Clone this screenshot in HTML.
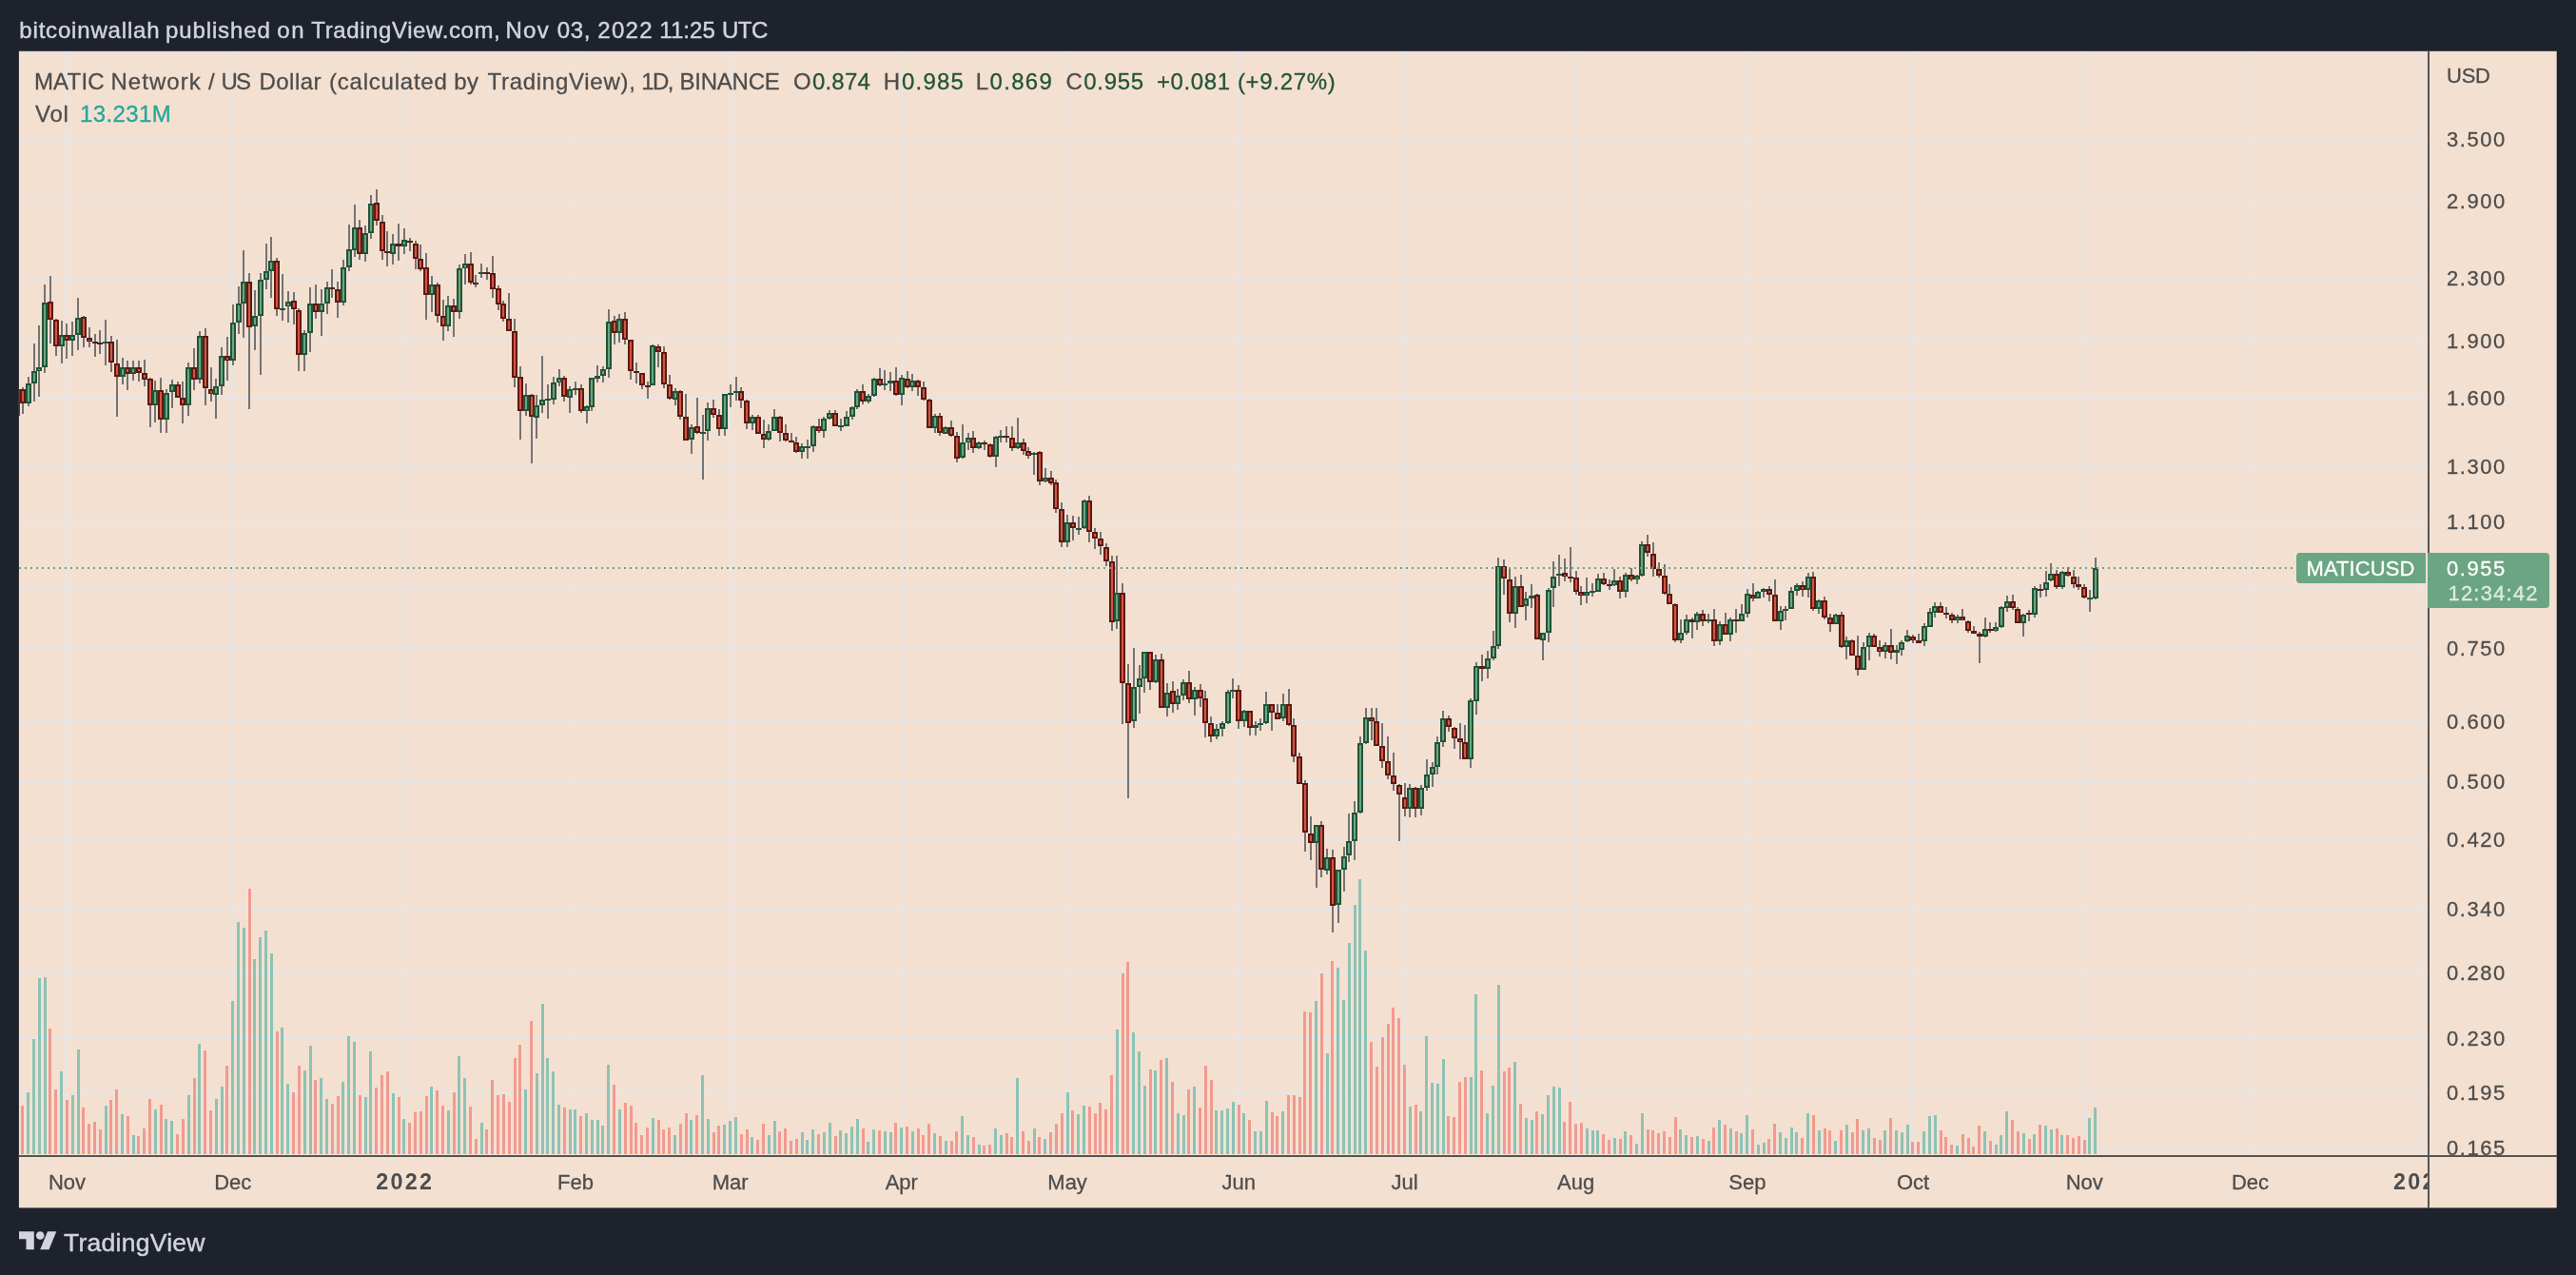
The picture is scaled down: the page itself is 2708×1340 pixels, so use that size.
<!DOCTYPE html><html><head><meta charset="utf-8"><title>MATICUSD</title>
<style>html,body{margin:0;padding:0;background:#1e222d;width:2708px;height:1340px;overflow:hidden}svg{display:block;position:absolute;left:0;top:0}text{font-family:"Liberation Sans", sans-serif}</style></head><body>
<svg width="2708" height="1340" viewBox="0 0 2708 1340" shape-rendering="crispEdges">
<rect x="0" y="0" width="2708" height="1340" fill="#1e222d"/>
<rect x="19.9" y="53.8" width="2667.8" height="1215.6" fill="#f4e0d0" shape-rendering="geometricPrecision"/>
<defs><clipPath id="pane"><rect x="20" y="54" width="2532" height="1160"/></clipPath></defs>
<g fill="#e5e5e7" clip-path="url(#pane)"><rect x="69" y="54" width="2" height="1160"/><rect x="244" y="54" width="2" height="1160"/><rect x="424" y="54" width="2" height="1160"/><rect x="604" y="54" width="2" height="1160"/><rect x="767" y="54" width="2" height="1160"/><rect x="947" y="54" width="2" height="1160"/><rect x="1121" y="54" width="2" height="1160"/><rect x="1301" y="54" width="2" height="1160"/><rect x="1476" y="54" width="2" height="1160"/><rect x="1656" y="54" width="2" height="1160"/><rect x="1836" y="54" width="2" height="1160"/><rect x="2010" y="54" width="2" height="1160"/><rect x="2190" y="54" width="2" height="1160"/><rect x="2364" y="54" width="2" height="1160"/><rect x="2545" y="54" width="2" height="1160"/><rect x="20" y="57" width="2532" height="2"/><rect x="20" y="146" width="2532" height="2"/><rect x="20" y="211" width="2532" height="2"/><rect x="20" y="291" width="2532" height="2"/><rect x="20" y="357" width="2532" height="2"/><rect x="20" y="417" width="2532" height="2"/><rect x="20" y="489" width="2532" height="2"/><rect x="20" y="547" width="2532" height="2"/><rect x="20" y="617" width="2532" height="2"/><rect x="20" y="680" width="2532" height="2"/><rect x="20" y="757" width="2532" height="2"/><rect x="20" y="821" width="2532" height="2"/><rect x="20" y="881" width="2532" height="2"/><rect x="20" y="955" width="2532" height="2"/><rect x="20" y="1022" width="2532" height="2"/><rect x="20" y="1090" width="2532" height="2"/><rect x="20" y="1147" width="2532" height="2"/><rect x="20" y="1205" width="2532" height="2"/></g>
<g clip-path="url(#pane)"><g fill="rgba(38,166,154,0.5)"><rect x="28" y="1148.0" width="3" height="65.0"/><rect x="34" y="1092.0" width="3" height="121.0"/><rect x="40" y="1028.0" width="3" height="185.0"/><rect x="46" y="1027.0" width="3" height="186.0"/><rect x="63" y="1126.0" width="3" height="87.0"/><rect x="75" y="1151.0" width="3" height="62.0"/><rect x="81" y="1103.0" width="3" height="110.0"/><rect x="110" y="1162.0" width="3" height="51.0"/><rect x="127" y="1171.0" width="3" height="42.0"/><rect x="139" y="1193.0" width="3" height="20.0"/><rect x="162" y="1166.0" width="3" height="47.0"/><rect x="173" y="1176.0" width="3" height="37.0"/><rect x="179" y="1178.0" width="3" height="35.0"/><rect x="197" y="1151.0" width="3" height="62.0"/><rect x="208" y="1097.0" width="3" height="116.0"/><rect x="226" y="1155.0" width="3" height="58.0"/><rect x="232" y="1142.0" width="3" height="71.0"/><rect x="243" y="1052.0" width="3" height="161.0"/><rect x="249" y="969.0" width="3" height="244.0"/><rect x="255" y="975.0" width="3" height="238.0"/><rect x="266" y="1008.0" width="3" height="205.0"/><rect x="272" y="985.0" width="3" height="228.0"/><rect x="278" y="978.0" width="3" height="235.0"/><rect x="284" y="1002.0" width="3" height="211.0"/><rect x="295" y="1080.0" width="3" height="133.0"/><rect x="301" y="1139.0" width="3" height="74.0"/><rect x="319" y="1125.0" width="3" height="88.0"/><rect x="325" y="1099.0" width="3" height="114.0"/><rect x="336" y="1133.0" width="3" height="80.0"/><rect x="342" y="1155.0" width="3" height="58.0"/><rect x="359" y="1137.0" width="3" height="76.0"/><rect x="365" y="1089.0" width="3" height="124.0"/><rect x="371" y="1095.0" width="3" height="118.0"/><rect x="383" y="1153.0" width="3" height="60.0"/><rect x="388" y="1105.0" width="3" height="108.0"/><rect x="412" y="1149.0" width="3" height="64.0"/><rect x="423" y="1176.0" width="3" height="37.0"/><rect x="452" y="1142.0" width="3" height="71.0"/><rect x="470" y="1167.0" width="3" height="46.0"/><rect x="481" y="1110.0" width="3" height="103.0"/><rect x="487" y="1133.0" width="3" height="80.0"/><rect x="505" y="1180.0" width="3" height="33.0"/><rect x="551" y="1145.0" width="3" height="68.0"/><rect x="563" y="1128.0" width="3" height="85.0"/><rect x="569" y="1055.0" width="3" height="158.0"/><rect x="574" y="1112.0" width="3" height="101.0"/><rect x="580" y="1126.0" width="3" height="87.0"/><rect x="586" y="1161.0" width="3" height="52.0"/><rect x="598" y="1166.0" width="3" height="47.0"/><rect x="603" y="1166.0" width="3" height="47.0"/><rect x="615" y="1170.0" width="3" height="43.0"/><rect x="621" y="1177.0" width="3" height="36.0"/><rect x="627" y="1177.0" width="3" height="36.0"/><rect x="632" y="1183.0" width="3" height="30.0"/><rect x="638" y="1119.0" width="3" height="94.0"/><rect x="650" y="1166.0" width="3" height="47.0"/><rect x="685" y="1175.0" width="3" height="38.0"/><rect x="708" y="1193.0" width="3" height="20.0"/><rect x="725" y="1177.0" width="3" height="36.0"/><rect x="737" y="1130.0" width="3" height="83.0"/><rect x="743" y="1176.0" width="3" height="37.0"/><rect x="760" y="1182.0" width="3" height="31.0"/><rect x="766" y="1178.0" width="3" height="35.0"/><rect x="772" y="1174.0" width="3" height="39.0"/><rect x="789" y="1195.0" width="3" height="18.0"/><rect x="807" y="1193.0" width="3" height="20.0"/><rect x="813" y="1178.0" width="3" height="35.0"/><rect x="842" y="1190.0" width="3" height="23.0"/><rect x="847" y="1198.0" width="3" height="15.0"/><rect x="853" y="1187.0" width="3" height="26.0"/><rect x="865" y="1190.0" width="3" height="23.0"/><rect x="871" y="1180.0" width="3" height="33.0"/><rect x="882" y="1188.0" width="3" height="25.0"/><rect x="888" y="1191.0" width="3" height="22.0"/><rect x="894" y="1184.0" width="3" height="29.0"/><rect x="900" y="1176.0" width="3" height="37.0"/><rect x="911" y="1200.0" width="3" height="13.0"/><rect x="917" y="1187.0" width="3" height="26.0"/><rect x="929" y="1189.0" width="3" height="24.0"/><rect x="935" y="1190.0" width="3" height="23.0"/><rect x="946" y="1185.0" width="3" height="28.0"/><rect x="958" y="1189.0" width="3" height="24.0"/><rect x="981" y="1191.0" width="3" height="22.0"/><rect x="993" y="1199.0" width="3" height="14.0"/><rect x="1010" y="1173.0" width="3" height="40.0"/><rect x="1016" y="1193.0" width="3" height="20.0"/><rect x="1028" y="1203.0" width="3" height="10.0"/><rect x="1045" y="1186.0" width="3" height="27.0"/><rect x="1051" y="1193.0" width="3" height="20.0"/><rect x="1068" y="1133.0" width="3" height="80.0"/><rect x="1086" y="1186.0" width="3" height="27.0"/><rect x="1097" y="1197.0" width="3" height="16.0"/><rect x="1121" y="1148.0" width="3" height="65.0"/><rect x="1132" y="1171.0" width="3" height="42.0"/><rect x="1138" y="1162.0" width="3" height="51.0"/><rect x="1173" y="1082.0" width="3" height="131.0"/><rect x="1190" y="1085.0" width="3" height="128.0"/><rect x="1196" y="1105.0" width="3" height="108.0"/><rect x="1202" y="1141.0" width="3" height="72.0"/><rect x="1213" y="1125.0" width="3" height="88.0"/><rect x="1225" y="1112.0" width="3" height="101.0"/><rect x="1237" y="1170.0" width="3" height="43.0"/><rect x="1243" y="1172.0" width="3" height="41.0"/><rect x="1254" y="1142.0" width="3" height="71.0"/><rect x="1277" y="1167.0" width="3" height="46.0"/><rect x="1283" y="1167.0" width="3" height="46.0"/><rect x="1289" y="1165.0" width="3" height="48.0"/><rect x="1295" y="1158.0" width="3" height="55.0"/><rect x="1306" y="1170.0" width="3" height="43.0"/><rect x="1318" y="1189.0" width="3" height="24.0"/><rect x="1324" y="1189.0" width="3" height="24.0"/><rect x="1330" y="1157.0" width="3" height="56.0"/><rect x="1347" y="1168.0" width="3" height="45.0"/><rect x="1382" y="1052.0" width="3" height="161.0"/><rect x="1394" y="1107.0" width="3" height="106.0"/><rect x="1405" y="1017.0" width="3" height="196.0"/><rect x="1411" y="1051.0" width="3" height="162.0"/><rect x="1417" y="991.0" width="3" height="222.0"/><rect x="1423" y="951.0" width="3" height="262.0"/><rect x="1428" y="924.0" width="3" height="289.0"/><rect x="1434" y="999.0" width="3" height="214.0"/><rect x="1481" y="1163.0" width="3" height="50.0"/><rect x="1492" y="1168.0" width="3" height="45.0"/><rect x="1498" y="1089.0" width="3" height="124.0"/><rect x="1504" y="1138.0" width="3" height="75.0"/><rect x="1510" y="1139.0" width="3" height="74.0"/><rect x="1516" y="1113.0" width="3" height="100.0"/><rect x="1545" y="1132.0" width="3" height="81.0"/><rect x="1550" y="1045.0" width="3" height="168.0"/><rect x="1562" y="1170.0" width="3" height="43.0"/><rect x="1568" y="1141.0" width="3" height="72.0"/><rect x="1574" y="1035.0" width="3" height="178.0"/><rect x="1591" y="1116.0" width="3" height="97.0"/><rect x="1603" y="1175.0" width="3" height="38.0"/><rect x="1609" y="1177.0" width="3" height="36.0"/><rect x="1620" y="1171.0" width="3" height="42.0"/><rect x="1626" y="1151.0" width="3" height="62.0"/><rect x="1632" y="1142.0" width="3" height="71.0"/><rect x="1638" y="1143.0" width="3" height="70.0"/><rect x="1667" y="1186.0" width="3" height="27.0"/><rect x="1673" y="1188.0" width="3" height="25.0"/><rect x="1678" y="1188.0" width="3" height="25.0"/><rect x="1696" y="1196.0" width="3" height="17.0"/><rect x="1707" y="1189.0" width="3" height="24.0"/><rect x="1719" y="1202.0" width="3" height="11.0"/><rect x="1725" y="1170.0" width="3" height="43.0"/><rect x="1765" y="1187.0" width="3" height="26.0"/><rect x="1771" y="1193.0" width="3" height="20.0"/><rect x="1783" y="1194.0" width="3" height="19.0"/><rect x="1795" y="1199.0" width="3" height="14.0"/><rect x="1806" y="1177.0" width="3" height="36.0"/><rect x="1818" y="1186.0" width="3" height="27.0"/><rect x="1829" y="1191.0" width="3" height="22.0"/><rect x="1835" y="1172.0" width="3" height="41.0"/><rect x="1847" y="1203.0" width="3" height="10.0"/><rect x="1853" y="1201.0" width="3" height="12.0"/><rect x="1870" y="1190.0" width="3" height="23.0"/><rect x="1876" y="1196.0" width="3" height="17.0"/><rect x="1882" y="1185.0" width="3" height="28.0"/><rect x="1887" y="1190.0" width="3" height="23.0"/><rect x="1899" y="1170.0" width="3" height="43.0"/><rect x="1911" y="1188.0" width="3" height="25.0"/><rect x="1928" y="1199.0" width="3" height="14.0"/><rect x="1940" y="1182.0" width="3" height="31.0"/><rect x="1957" y="1188.0" width="3" height="25.0"/><rect x="1963" y="1186.0" width="3" height="27.0"/><rect x="1980" y="1188.0" width="3" height="25.0"/><rect x="1992" y="1188.0" width="3" height="25.0"/><rect x="1998" y="1190.0" width="3" height="23.0"/><rect x="2004" y="1182.0" width="3" height="31.0"/><rect x="2021" y="1189.0" width="3" height="24.0"/><rect x="2027" y="1173.0" width="3" height="40.0"/><rect x="2033" y="1172.0" width="3" height="41.0"/><rect x="2056" y="1204.0" width="3" height="9.0"/><rect x="2085" y="1189.0" width="3" height="24.0"/><rect x="2097" y="1203.0" width="3" height="10.0"/><rect x="2102" y="1193.0" width="3" height="20.0"/><rect x="2108" y="1168.0" width="3" height="45.0"/><rect x="2126" y="1191.0" width="3" height="22.0"/><rect x="2137" y="1192.0" width="3" height="21.0"/><rect x="2149" y="1183.0" width="3" height="30.0"/><rect x="2155" y="1187.0" width="3" height="26.0"/><rect x="2166" y="1193.0" width="3" height="20.0"/><rect x="2195" y="1175.0" width="3" height="38.0"/><rect x="2201" y="1164.0" width="3" height="49.0"/></g><g fill="rgba(239,83,80,0.5)"><rect x="22" y="1162.0" width="3" height="51.0"/><rect x="51" y="1081.0" width="3" height="132.0"/><rect x="57" y="1145.0" width="3" height="68.0"/><rect x="69" y="1156.0" width="3" height="57.0"/><rect x="86" y="1164.0" width="3" height="49.0"/><rect x="92" y="1181.0" width="3" height="32.0"/><rect x="98" y="1179.0" width="3" height="34.0"/><rect x="104" y="1187.0" width="3" height="26.0"/><rect x="115" y="1156.0" width="3" height="57.0"/><rect x="121" y="1145.0" width="3" height="68.0"/><rect x="133" y="1173.0" width="3" height="40.0"/><rect x="144" y="1194.0" width="3" height="19.0"/><rect x="150" y="1186.0" width="3" height="27.0"/><rect x="156" y="1155.0" width="3" height="58.0"/><rect x="168" y="1161.0" width="3" height="52.0"/><rect x="185" y="1192.0" width="3" height="21.0"/><rect x="191" y="1176.0" width="3" height="37.0"/><rect x="203" y="1133.0" width="3" height="80.0"/><rect x="214" y="1104.0" width="3" height="109.0"/><rect x="220" y="1167.0" width="3" height="46.0"/><rect x="237" y="1120.0" width="3" height="93.0"/><rect x="261" y="934.0" width="3" height="279.0"/><rect x="290" y="1084.0" width="3" height="129.0"/><rect x="307" y="1148.0" width="3" height="65.0"/><rect x="313" y="1120.0" width="3" height="93.0"/><rect x="330" y="1135.0" width="3" height="78.0"/><rect x="348" y="1160.0" width="3" height="53.0"/><rect x="354" y="1152.0" width="3" height="61.0"/><rect x="377" y="1151.0" width="3" height="62.0"/><rect x="394" y="1143.0" width="3" height="70.0"/><rect x="400" y="1130.0" width="3" height="83.0"/><rect x="406" y="1126.0" width="3" height="87.0"/><rect x="418" y="1153.0" width="3" height="60.0"/><rect x="429" y="1180.0" width="3" height="33.0"/><rect x="435" y="1169.0" width="3" height="44.0"/><rect x="441" y="1168.0" width="3" height="45.0"/><rect x="447" y="1152.0" width="3" height="61.0"/><rect x="458" y="1146.0" width="3" height="67.0"/><rect x="464" y="1162.0" width="3" height="51.0"/><rect x="476" y="1148.0" width="3" height="65.0"/><rect x="493" y="1163.0" width="3" height="50.0"/><rect x="499" y="1197.0" width="3" height="16.0"/><rect x="510" y="1187.0" width="3" height="26.0"/><rect x="516" y="1135.0" width="3" height="78.0"/><rect x="522" y="1151.0" width="3" height="62.0"/><rect x="528" y="1150.0" width="3" height="63.0"/><rect x="534" y="1158.0" width="3" height="55.0"/><rect x="540" y="1112.0" width="3" height="101.0"/><rect x="545" y="1098.0" width="3" height="115.0"/><rect x="557" y="1073.0" width="3" height="140.0"/><rect x="592" y="1164.0" width="3" height="49.0"/><rect x="609" y="1173.0" width="3" height="40.0"/><rect x="644" y="1140.0" width="3" height="73.0"/><rect x="656" y="1159.0" width="3" height="54.0"/><rect x="662" y="1162.0" width="3" height="51.0"/><rect x="667" y="1180.0" width="3" height="33.0"/><rect x="673" y="1193.0" width="3" height="20.0"/><rect x="679" y="1185.0" width="3" height="28.0"/><rect x="691" y="1177.0" width="3" height="36.0"/><rect x="696" y="1187.0" width="3" height="26.0"/><rect x="702" y="1185.0" width="3" height="28.0"/><rect x="714" y="1181.0" width="3" height="32.0"/><rect x="720" y="1170.0" width="3" height="43.0"/><rect x="731" y="1172.0" width="3" height="41.0"/><rect x="749" y="1190.0" width="3" height="23.0"/><rect x="754" y="1183.0" width="3" height="30.0"/><rect x="778" y="1192.0" width="3" height="21.0"/><rect x="784" y="1187.0" width="3" height="26.0"/><rect x="795" y="1198.0" width="3" height="15.0"/><rect x="801" y="1181.0" width="3" height="32.0"/><rect x="818" y="1189.0" width="3" height="24.0"/><rect x="824" y="1186.0" width="3" height="27.0"/><rect x="830" y="1199.0" width="3" height="14.0"/><rect x="836" y="1197.0" width="3" height="16.0"/><rect x="859" y="1192.0" width="3" height="21.0"/><rect x="877" y="1194.0" width="3" height="19.0"/><rect x="906" y="1186.0" width="3" height="27.0"/><rect x="923" y="1188.0" width="3" height="25.0"/><rect x="940" y="1180.0" width="3" height="33.0"/><rect x="952" y="1184.0" width="3" height="29.0"/><rect x="964" y="1186.0" width="3" height="27.0"/><rect x="969" y="1193.0" width="3" height="20.0"/><rect x="975" y="1181.0" width="3" height="32.0"/><rect x="987" y="1194.0" width="3" height="19.0"/><rect x="999" y="1199.0" width="3" height="14.0"/><rect x="1004" y="1189.0" width="3" height="24.0"/><rect x="1022" y="1195.0" width="3" height="18.0"/><rect x="1033" y="1204.0" width="3" height="9.0"/><rect x="1039" y="1203.0" width="3" height="10.0"/><rect x="1057" y="1191.0" width="3" height="22.0"/><rect x="1062" y="1195.0" width="3" height="18.0"/><rect x="1074" y="1189.0" width="3" height="24.0"/><rect x="1080" y="1199.0" width="3" height="14.0"/><rect x="1091" y="1195.0" width="3" height="18.0"/><rect x="1103" y="1190.0" width="3" height="23.0"/><rect x="1109" y="1181.0" width="3" height="32.0"/><rect x="1115" y="1170.0" width="3" height="43.0"/><rect x="1126" y="1167.0" width="3" height="46.0"/><rect x="1144" y="1163.0" width="3" height="50.0"/><rect x="1150" y="1170.0" width="3" height="43.0"/><rect x="1155" y="1159.0" width="3" height="54.0"/><rect x="1161" y="1166.0" width="3" height="47.0"/><rect x="1167" y="1130.0" width="3" height="83.0"/><rect x="1179" y="1023.0" width="3" height="190.0"/><rect x="1184" y="1011.0" width="3" height="202.0"/><rect x="1208" y="1124.0" width="3" height="89.0"/><rect x="1219" y="1114.0" width="3" height="99.0"/><rect x="1231" y="1137.0" width="3" height="76.0"/><rect x="1248" y="1145.0" width="3" height="68.0"/><rect x="1260" y="1164.0" width="3" height="49.0"/><rect x="1266" y="1120.0" width="3" height="93.0"/><rect x="1272" y="1135.0" width="3" height="78.0"/><rect x="1301" y="1161.0" width="3" height="52.0"/><rect x="1312" y="1177.0" width="3" height="36.0"/><rect x="1336" y="1169.0" width="3" height="44.0"/><rect x="1341" y="1173.0" width="3" height="40.0"/><rect x="1353" y="1151.0" width="3" height="62.0"/><rect x="1359" y="1151.0" width="3" height="62.0"/><rect x="1365" y="1153.0" width="3" height="60.0"/><rect x="1370" y="1063.0" width="3" height="150.0"/><rect x="1376" y="1064.0" width="3" height="149.0"/><rect x="1388" y="1023.0" width="3" height="190.0"/><rect x="1399" y="1010.0" width="3" height="203.0"/><rect x="1440" y="1095.0" width="3" height="118.0"/><rect x="1446" y="1121.0" width="3" height="92.0"/><rect x="1452" y="1090.0" width="3" height="123.0"/><rect x="1458" y="1076.0" width="3" height="137.0"/><rect x="1463" y="1059.0" width="3" height="154.0"/><rect x="1469" y="1070.0" width="3" height="143.0"/><rect x="1475" y="1119.0" width="3" height="94.0"/><rect x="1487" y="1161.0" width="3" height="52.0"/><rect x="1521" y="1173.0" width="3" height="40.0"/><rect x="1527" y="1174.0" width="3" height="39.0"/><rect x="1533" y="1137.0" width="3" height="76.0"/><rect x="1539" y="1132.0" width="3" height="81.0"/><rect x="1556" y="1125.0" width="3" height="88.0"/><rect x="1580" y="1126.0" width="3" height="87.0"/><rect x="1585" y="1122.0" width="3" height="91.0"/><rect x="1597" y="1160.0" width="3" height="53.0"/><rect x="1614" y="1168.0" width="3" height="45.0"/><rect x="1643" y="1179.0" width="3" height="34.0"/><rect x="1649" y="1158.0" width="3" height="55.0"/><rect x="1655" y="1181.0" width="3" height="32.0"/><rect x="1661" y="1180.0" width="3" height="33.0"/><rect x="1684" y="1192.0" width="3" height="21.0"/><rect x="1690" y="1198.0" width="3" height="15.0"/><rect x="1702" y="1197.0" width="3" height="16.0"/><rect x="1713" y="1193.0" width="3" height="20.0"/><rect x="1731" y="1187.0" width="3" height="26.0"/><rect x="1736" y="1188.0" width="3" height="25.0"/><rect x="1742" y="1191.0" width="3" height="22.0"/><rect x="1748" y="1189.0" width="3" height="24.0"/><rect x="1754" y="1195.0" width="3" height="18.0"/><rect x="1760" y="1174.0" width="3" height="39.0"/><rect x="1777" y="1195.0" width="3" height="18.0"/><rect x="1789" y="1197.0" width="3" height="16.0"/><rect x="1800" y="1185.0" width="3" height="28.0"/><rect x="1812" y="1182.0" width="3" height="31.0"/><rect x="1824" y="1189.0" width="3" height="24.0"/><rect x="1841" y="1187.0" width="3" height="26.0"/><rect x="1858" y="1197.0" width="3" height="16.0"/><rect x="1864" y="1181.0" width="3" height="32.0"/><rect x="1893" y="1196.0" width="3" height="17.0"/><rect x="1905" y="1172.0" width="3" height="41.0"/><rect x="1917" y="1186.0" width="3" height="27.0"/><rect x="1922" y="1188.0" width="3" height="25.0"/><rect x="1934" y="1188.0" width="3" height="25.0"/><rect x="1946" y="1190.0" width="3" height="23.0"/><rect x="1951" y="1176.0" width="3" height="37.0"/><rect x="1969" y="1196.0" width="3" height="17.0"/><rect x="1975" y="1198.0" width="3" height="15.0"/><rect x="1986" y="1175.0" width="3" height="38.0"/><rect x="2009" y="1200.0" width="3" height="13.0"/><rect x="2015" y="1200.0" width="3" height="13.0"/><rect x="2039" y="1188.0" width="3" height="25.0"/><rect x="2044" y="1195.0" width="3" height="18.0"/><rect x="2050" y="1203.0" width="3" height="10.0"/><rect x="2062" y="1192.0" width="3" height="21.0"/><rect x="2068" y="1196.0" width="3" height="17.0"/><rect x="2073" y="1205.0" width="3" height="8.0"/><rect x="2079" y="1183.0" width="3" height="30.0"/><rect x="2091" y="1199.0" width="3" height="14.0"/><rect x="2114" y="1177.0" width="3" height="36.0"/><rect x="2120" y="1189.0" width="3" height="24.0"/><rect x="2132" y="1197.0" width="3" height="16.0"/><rect x="2143" y="1182.0" width="3" height="31.0"/><rect x="2161" y="1186.0" width="3" height="27.0"/><rect x="2172" y="1193.0" width="3" height="20.0"/><rect x="2178" y="1196.0" width="3" height="17.0"/><rect x="2184" y="1194.0" width="3" height="19.0"/><rect x="2190" y="1198.0" width="3" height="15.0"/></g></g>
<g clip-path="url(#pane)"><g fill="#737375"><rect x="17" y="409" width="2" height="28"/><rect x="23" y="407" width="2" height="28"/><rect x="29" y="396" width="2" height="31"/><rect x="35" y="361" width="2" height="61"/><rect x="40" y="342" width="2" height="75"/><rect x="46" y="299" width="2" height="93"/><rect x="52" y="290" width="2" height="71"/><rect x="58" y="335" width="2" height="39"/><rect x="64" y="337" width="2" height="45"/><rect x="69" y="340" width="2" height="37"/><rect x="75" y="338" width="2" height="36"/><rect x="81" y="313" width="2" height="55"/><rect x="87" y="332" width="2" height="33"/><rect x="93" y="344" width="2" height="21"/><rect x="99" y="351" width="2" height="24"/><rect x="104" y="347" width="2" height="25"/><rect x="110" y="336" width="2" height="48"/><rect x="116" y="353" width="2" height="38"/><rect x="122" y="357" width="2" height="81"/><rect x="128" y="376" width="2" height="28"/><rect x="133" y="379" width="2" height="31"/><rect x="139" y="379" width="2" height="21"/><rect x="145" y="379" width="2" height="22"/><rect x="151" y="378" width="2" height="28"/><rect x="157" y="397" width="2" height="52"/><rect x="162" y="400" width="2" height="44"/><rect x="168" y="397" width="2" height="58"/><rect x="174" y="409" width="2" height="46"/><rect x="180" y="399" width="2" height="30"/><rect x="186" y="401" width="2" height="17"/><rect x="191" y="401" width="2" height="44"/><rect x="197" y="381" width="2" height="56"/><rect x="203" y="366" width="2" height="44"/><rect x="209" y="348" width="2" height="55"/><rect x="215" y="345" width="2" height="81"/><rect x="221" y="386" width="2" height="36"/><rect x="226" y="398" width="2" height="42"/><rect x="232" y="365" width="2" height="50"/><rect x="238" y="354" width="2" height="46"/><rect x="244" y="320" width="2" height="64"/><rect x="250" y="301" width="2" height="50"/><rect x="255" y="263" width="2" height="92"/><rect x="261" y="287" width="2" height="143"/><rect x="267" y="305" width="2" height="63"/><rect x="273" y="287" width="2" height="107"/><rect x="279" y="256" width="2" height="48"/><rect x="284" y="249" width="2" height="64"/><rect x="290" y="271" width="2" height="61"/><rect x="296" y="288" width="2" height="49"/><rect x="302" y="306" width="2" height="33"/><rect x="308" y="307" width="2" height="34"/><rect x="313" y="324" width="2" height="66"/><rect x="319" y="347" width="2" height="43"/><rect x="325" y="302" width="2" height="68"/><rect x="331" y="299" width="2" height="36"/><rect x="337" y="304" width="2" height="49"/><rect x="343" y="296" width="2" height="34"/><rect x="348" y="283" width="2" height="30"/><rect x="354" y="296" width="2" height="38"/><rect x="360" y="273" width="2" height="48"/><rect x="366" y="236" width="2" height="49"/><rect x="372" y="215" width="2" height="55"/><rect x="377" y="231" width="2" height="42"/><rect x="383" y="237" width="2" height="38"/><rect x="389" y="205" width="2" height="46"/><rect x="395" y="199" width="2" height="38"/><rect x="401" y="226" width="2" height="47"/><rect x="406" y="243" width="2" height="37"/><rect x="412" y="246" width="2" height="32"/><rect x="418" y="235" width="2" height="39"/><rect x="424" y="240" width="2" height="27"/><rect x="430" y="250" width="2" height="14"/><rect x="436" y="253" width="2" height="30"/><rect x="441" y="257" width="2" height="28"/><rect x="447" y="266" width="2" height="70"/><rect x="453" y="290" width="2" height="38"/><rect x="459" y="297" width="2" height="42"/><rect x="465" y="315" width="2" height="43"/><rect x="470" y="311" width="2" height="37"/><rect x="476" y="314" width="2" height="40"/><rect x="482" y="278" width="2" height="57"/><rect x="488" y="267" width="2" height="32"/><rect x="494" y="265" width="2" height="34"/><rect x="499" y="289" width="2" height="13"/><rect x="505" y="277" width="2" height="15"/><rect x="511" y="281" width="2" height="13"/><rect x="517" y="269" width="2" height="44"/><rect x="523" y="300" width="2" height="26"/><rect x="528" y="316" width="2" height="22"/><rect x="534" y="308" width="2" height="40"/><rect x="540" y="335" width="2" height="72"/><rect x="546" y="385" width="2" height="77"/><rect x="552" y="403" width="2" height="34"/><rect x="558" y="414" width="2" height="73"/><rect x="563" y="415" width="2" height="46"/><rect x="569" y="374" width="2" height="60"/><rect x="575" y="404" width="2" height="36"/><rect x="581" y="396" width="2" height="29"/><rect x="587" y="388" width="2" height="18"/><rect x="592" y="395" width="2" height="27"/><rect x="598" y="406" width="2" height="28"/><rect x="604" y="401" width="2" height="14"/><rect x="610" y="404" width="2" height="30"/><rect x="616" y="426" width="2" height="19"/><rect x="621" y="397" width="2" height="35"/><rect x="627" y="384" width="2" height="18"/><rect x="633" y="385" width="2" height="17"/><rect x="639" y="325" width="2" height="72"/><rect x="645" y="332" width="2" height="30"/><rect x="650" y="330" width="2" height="30"/><rect x="656" y="328" width="2" height="34"/><rect x="662" y="357" width="2" height="42"/><rect x="668" y="381" width="2" height="22"/><rect x="674" y="392" width="2" height="17"/><rect x="680" y="401" width="2" height="18"/><rect x="685" y="362" width="2" height="43"/><rect x="691" y="362" width="2" height="24"/><rect x="697" y="364" width="2" height="44"/><rect x="703" y="394" width="2" height="26"/><rect x="709" y="408" width="2" height="18"/><rect x="714" y="410" width="2" height="31"/><rect x="720" y="414" width="2" height="49"/><rect x="726" y="446" width="2" height="31"/><rect x="732" y="418" width="2" height="38"/><rect x="738" y="436" width="2" height="68"/><rect x="743" y="423" width="2" height="40"/><rect x="749" y="420" width="2" height="19"/><rect x="755" y="430" width="2" height="28"/><rect x="761" y="414" width="2" height="44"/><rect x="767" y="404" width="2" height="24"/><rect x="773" y="396" width="2" height="25"/><rect x="778" y="407" width="2" height="22"/><rect x="784" y="420" width="2" height="31"/><rect x="790" y="436" width="2" height="16"/><rect x="796" y="436" width="2" height="20"/><rect x="802" y="441" width="2" height="30"/><rect x="807" y="446" width="2" height="17"/><rect x="813" y="430" width="2" height="23"/><rect x="819" y="437" width="2" height="27"/><rect x="825" y="446" width="2" height="18"/><rect x="831" y="455" width="2" height="10"/><rect x="836" y="459" width="2" height="17"/><rect x="842" y="466" width="2" height="16"/><rect x="848" y="462" width="2" height="20"/><rect x="854" y="447" width="2" height="28"/><rect x="860" y="440" width="2" height="15"/><rect x="865" y="438" width="2" height="22"/><rect x="871" y="431" width="2" height="10"/><rect x="877" y="431" width="2" height="17"/><rect x="883" y="440" width="2" height="13"/><rect x="889" y="432" width="2" height="16"/><rect x="895" y="427" width="2" height="14"/><rect x="900" y="409" width="2" height="21"/><rect x="906" y="404" width="2" height="21"/><rect x="912" y="414" width="2" height="10"/><rect x="918" y="397" width="2" height="20"/><rect x="924" y="387" width="2" height="19"/><rect x="929" y="389" width="2" height="21"/><rect x="935" y="391" width="2" height="20"/><rect x="941" y="386" width="2" height="30"/><rect x="947" y="394" width="2" height="32"/><rect x="953" y="390" width="2" height="18"/><rect x="958" y="393" width="2" height="18"/><rect x="964" y="399" width="2" height="17"/><rect x="970" y="401" width="2" height="20"/><rect x="976" y="419" width="2" height="31"/><rect x="982" y="435" width="2" height="20"/><rect x="987" y="434" width="2" height="24"/><rect x="993" y="448" width="2" height="8"/><rect x="999" y="442" width="2" height="17"/><rect x="1005" y="454" width="2" height="32"/><rect x="1011" y="446" width="2" height="36"/><rect x="1017" y="455" width="2" height="18"/><rect x="1022" y="453" width="2" height="23"/><rect x="1028" y="464" width="2" height="8"/><rect x="1034" y="463" width="2" height="10"/><rect x="1040" y="466" width="2" height="15"/><rect x="1046" y="458" width="2" height="33"/><rect x="1051" y="452" width="2" height="13"/><rect x="1057" y="448" width="2" height="17"/><rect x="1063" y="448" width="2" height="26"/><rect x="1069" y="439" width="2" height="33"/><rect x="1075" y="461" width="2" height="17"/><rect x="1080" y="470" width="2" height="12"/><rect x="1086" y="475" width="2" height="24"/><rect x="1092" y="474" width="2" height="36"/><rect x="1098" y="492" width="2" height="15"/><rect x="1104" y="495" width="2" height="15"/><rect x="1109" y="504" width="2" height="35"/><rect x="1115" y="528" width="2" height="47"/><rect x="1121" y="541" width="2" height="34"/><rect x="1127" y="542" width="2" height="26"/><rect x="1133" y="543" width="2" height="19"/><rect x="1139" y="525" width="2" height="31"/><rect x="1144" y="521" width="2" height="49"/><rect x="1150" y="555" width="2" height="22"/><rect x="1156" y="559" width="2" height="24"/><rect x="1162" y="571" width="2" height="24"/><rect x="1168" y="584" width="2" height="79"/><rect x="1173" y="584" width="2" height="77"/><rect x="1179" y="613" width="2" height="148"/><rect x="1185" y="698" width="2" height="141"/><rect x="1191" y="681" width="2" height="84"/><rect x="1197" y="699" width="2" height="51"/><rect x="1202" y="685" width="2" height="43"/><rect x="1208" y="685" width="2" height="40"/><rect x="1214" y="688" width="2" height="30"/><rect x="1220" y="687" width="2" height="57"/><rect x="1226" y="718" width="2" height="35"/><rect x="1232" y="716" width="2" height="33"/><rect x="1237" y="724" width="2" height="22"/><rect x="1243" y="714" width="2" height="22"/><rect x="1249" y="705" width="2" height="34"/><rect x="1255" y="722" width="2" height="30"/><rect x="1261" y="719" width="2" height="24"/><rect x="1266" y="726" width="2" height="49"/><rect x="1272" y="753" width="2" height="27"/><rect x="1278" y="761" width="2" height="16"/><rect x="1284" y="758" width="2" height="16"/><rect x="1290" y="725" width="2" height="36"/><rect x="1295" y="713" width="2" height="21"/><rect x="1301" y="720" width="2" height="46"/><rect x="1307" y="746" width="2" height="18"/><rect x="1313" y="747" width="2" height="26"/><rect x="1319" y="758" width="2" height="15"/><rect x="1324" y="755" width="2" height="13"/><rect x="1330" y="727" width="2" height="34"/><rect x="1336" y="740" width="2" height="28"/><rect x="1342" y="740" width="2" height="16"/><rect x="1348" y="729" width="2" height="29"/><rect x="1354" y="724" width="2" height="39"/><rect x="1359" y="755" width="2" height="46"/><rect x="1365" y="791" width="2" height="33"/><rect x="1371" y="820" width="2" height="75"/><rect x="1377" y="858" width="2" height="46"/><rect x="1383" y="867" width="2" height="66"/><rect x="1388" y="863" width="2" height="59"/><rect x="1394" y="892" width="2" height="27"/><rect x="1400" y="893" width="2" height="87"/><rect x="1406" y="914" width="2" height="56"/><rect x="1412" y="890" width="2" height="47"/><rect x="1417" y="855" width="2" height="51"/><rect x="1423" y="842" width="2" height="62"/><rect x="1429" y="774" width="2" height="81"/><rect x="1435" y="744" width="2" height="38"/><rect x="1441" y="744" width="2" height="34"/><rect x="1446" y="744" width="2" height="40"/><rect x="1452" y="760" width="2" height="47"/><rect x="1458" y="774" width="2" height="45"/><rect x="1464" y="791" width="2" height="40"/><rect x="1470" y="824" width="2" height="60"/><rect x="1476" y="823" width="2" height="35"/><rect x="1481" y="824" width="2" height="35"/><rect x="1487" y="827" width="2" height="32"/><rect x="1493" y="825" width="2" height="32"/><rect x="1499" y="798" width="2" height="33"/><rect x="1505" y="801" width="2" height="26"/><rect x="1510" y="774" width="2" height="40"/><rect x="1516" y="747" width="2" height="38"/><rect x="1522" y="752" width="2" height="17"/><rect x="1528" y="764" width="2" height="23"/><rect x="1534" y="760" width="2" height="38"/><rect x="1539" y="762" width="2" height="36"/><rect x="1545" y="734" width="2" height="73"/><rect x="1551" y="696" width="2" height="55"/><rect x="1557" y="688" width="2" height="28"/><rect x="1563" y="684" width="2" height="29"/><rect x="1569" y="663" width="2" height="31"/><rect x="1574" y="586" width="2" height="96"/><rect x="1580" y="588" width="2" height="37"/><rect x="1586" y="597" width="2" height="57"/><rect x="1592" y="606" width="2" height="54"/><rect x="1598" y="604" width="2" height="34"/><rect x="1603" y="622" width="2" height="30"/><rect x="1609" y="614" width="2" height="25"/><rect x="1615" y="624" width="2" height="48"/><rect x="1621" y="665" width="2" height="29"/><rect x="1627" y="618" width="2" height="57"/><rect x="1632" y="590" width="2" height="48"/><rect x="1638" y="583" width="2" height="33"/><rect x="1644" y="587" width="2" height="24"/><rect x="1650" y="575" width="2" height="37"/><rect x="1656" y="600" width="2" height="25"/><rect x="1661" y="616" width="2" height="20"/><rect x="1667" y="607" width="2" height="27"/><rect x="1673" y="613" width="2" height="14"/><rect x="1679" y="603" width="2" height="19"/><rect x="1685" y="602" width="2" height="13"/><rect x="1691" y="609" width="2" height="11"/><rect x="1696" y="598" width="2" height="18"/><rect x="1702" y="606" width="2" height="23"/><rect x="1708" y="602" width="2" height="26"/><rect x="1714" y="597" width="2" height="14"/><rect x="1720" y="604" width="2" height="10"/><rect x="1725" y="569" width="2" height="37"/><rect x="1731" y="562" width="2" height="23"/><rect x="1737" y="570" width="2" height="36"/><rect x="1743" y="591" width="2" height="16"/><rect x="1749" y="593" width="2" height="32"/><rect x="1754" y="614" width="2" height="21"/><rect x="1760" y="634" width="2" height="41"/><rect x="1766" y="651" width="2" height="25"/><rect x="1772" y="646" width="2" height="21"/><rect x="1778" y="649" width="2" height="22"/><rect x="1783" y="643" width="2" height="19"/><rect x="1789" y="641" width="2" height="17"/><rect x="1795" y="645" width="2" height="10"/><rect x="1801" y="640" width="2" height="39"/><rect x="1807" y="653" width="2" height="25"/><rect x="1813" y="644" width="2" height="23"/><rect x="1818" y="649" width="2" height="25"/><rect x="1824" y="640" width="2" height="25"/><rect x="1830" y="635" width="2" height="18"/><rect x="1836" y="619" width="2" height="30"/><rect x="1842" y="613" width="2" height="19"/><rect x="1847" y="621" width="2" height="8"/><rect x="1853" y="618" width="2" height="10"/><rect x="1859" y="616" width="2" height="16"/><rect x="1865" y="609" width="2" height="44"/><rect x="1871" y="637" width="2" height="25"/><rect x="1876" y="637" width="2" height="15"/><rect x="1882" y="617" width="2" height="23"/><rect x="1888" y="613" width="2" height="13"/><rect x="1894" y="611" width="2" height="16"/><rect x="1900" y="602" width="2" height="26"/><rect x="1905" y="601" width="2" height="41"/><rect x="1911" y="630" width="2" height="15"/><rect x="1917" y="627" width="2" height="24"/><rect x="1923" y="645" width="2" height="19"/><rect x="1929" y="645" width="2" height="11"/><rect x="1935" y="643" width="2" height="38"/><rect x="1940" y="669" width="2" height="24"/><rect x="1946" y="672" width="2" height="17"/><rect x="1952" y="668" width="2" height="42"/><rect x="1958" y="675" width="2" height="29"/><rect x="1964" y="665" width="2" height="29"/><rect x="1969" y="666" width="2" height="14"/><rect x="1975" y="673" width="2" height="17"/><rect x="1981" y="675" width="2" height="17"/><rect x="1987" y="661" width="2" height="32"/><rect x="1993" y="678" width="2" height="20"/><rect x="1998" y="673" width="2" height="16"/><rect x="2004" y="662" width="2" height="13"/><rect x="2010" y="667" width="2" height="9"/><rect x="2016" y="666" width="2" height="10"/><rect x="2022" y="655" width="2" height="24"/><rect x="2028" y="639" width="2" height="20"/><rect x="2033" y="633" width="2" height="16"/><rect x="2039" y="633" width="2" height="11"/><rect x="2045" y="638" width="2" height="12"/><rect x="2051" y="644" width="2" height="11"/><rect x="2057" y="646" width="2" height="9"/><rect x="2062" y="640" width="2" height="12"/><rect x="2068" y="652" width="2" height="13"/><rect x="2074" y="658" width="2" height="8"/><rect x="2080" y="664" width="2" height="33"/><rect x="2086" y="649" width="2" height="21"/><rect x="2091" y="654" width="2" height="11"/><rect x="2097" y="654" width="2" height="10"/><rect x="2103" y="637" width="2" height="23"/><rect x="2109" y="626" width="2" height="17"/><rect x="2115" y="625" width="2" height="16"/><rect x="2120" y="638" width="2" height="17"/><rect x="2126" y="645" width="2" height="24"/><rect x="2132" y="641" width="2" height="12"/><rect x="2138" y="616" width="2" height="33"/><rect x="2144" y="614" width="2" height="14"/><rect x="2150" y="600" width="2" height="27"/><rect x="2155" y="592" width="2" height="19"/><rect x="2161" y="599" width="2" height="20"/><rect x="2167" y="600" width="2" height="19"/><rect x="2173" y="596" width="2" height="10"/><rect x="2179" y="599" width="2" height="19"/><rect x="2184" y="606" width="2" height="14"/><rect x="2190" y="614" width="2" height="15"/><rect x="2196" y="620" width="2" height="23"/><rect x="2202" y="586" width="2" height="44"/></g><rect x="22" y="410" width="4" height="13" fill="#d75442" stroke="#5b1a13" stroke-width="2"/><rect x="51" y="318" width="4" height="17" fill="#d75442" stroke="#5b1a13" stroke-width="2"/><rect x="57" y="337" width="4" height="26" fill="#d75442" stroke="#5b1a13" stroke-width="2"/><rect x="68" y="353" width="4" height="4" fill="#d75442" stroke="#5b1a13" stroke-width="2"/><rect x="86" y="334" width="4" height="20" fill="#d75442" stroke="#5b1a13" stroke-width="2"/><rect x="91" y="355" width="6" height="4" fill="#5b1a13"/><rect x="93" y="356.5" width="2" height="1.0" fill="#d75442"/><rect x="97" y="359" width="6" height="2" fill="#5b1a13"/><rect x="102" y="360" width="6" height="2" fill="#5b1a13"/><rect x="115" y="360" width="4" height="20" fill="#d75442" stroke="#5b1a13" stroke-width="2"/><rect x="121" y="383" width="4" height="12" fill="#d75442" stroke="#5b1a13" stroke-width="2"/><rect x="132" y="387" width="4" height="5" fill="#d75442" stroke="#5b1a13" stroke-width="2"/><rect x="144" y="387" width="4" height="4" fill="#d75442" stroke="#5b1a13" stroke-width="2"/><rect x="150" y="393" width="4" height="5" fill="#d75442" stroke="#5b1a13" stroke-width="2"/><rect x="156" y="399" width="4" height="26" fill="#d75442" stroke="#5b1a13" stroke-width="2"/><rect x="167" y="411" width="4" height="29" fill="#d75442" stroke="#5b1a13" stroke-width="2"/><rect x="185" y="405" width="4" height="12" fill="#d75442" stroke="#5b1a13" stroke-width="2"/><rect x="190" y="419" width="4" height="6" fill="#d75442" stroke="#5b1a13" stroke-width="2"/><rect x="202" y="387" width="4" height="11" fill="#d75442" stroke="#5b1a13" stroke-width="2"/><rect x="214" y="354" width="4" height="53" fill="#d75442" stroke="#5b1a13" stroke-width="2"/><rect x="219" y="409" width="6" height="5" fill="#5b1a13"/><rect x="221" y="410.5" width="2" height="2.0" fill="#d75442"/><rect x="236" y="374" width="6" height="5" fill="#5b1a13"/><rect x="238" y="375.5" width="2" height="2.0" fill="#d75442"/><rect x="260" y="297" width="4" height="46" fill="#d75442" stroke="#5b1a13" stroke-width="2"/><rect x="289" y="275" width="4" height="49" fill="#d75442" stroke="#5b1a13" stroke-width="2"/><rect x="307" y="317" width="4" height="7" fill="#d75442" stroke="#5b1a13" stroke-width="2"/><rect x="312" y="327" width="4" height="45" fill="#d75442" stroke="#5b1a13" stroke-width="2"/><rect x="330" y="320" width="4" height="7" fill="#d75442" stroke="#5b1a13" stroke-width="2"/><rect x="346" y="302" width="6" height="2" fill="#5b1a13"/><rect x="353" y="305" width="4" height="12" fill="#d75442" stroke="#5b1a13" stroke-width="2"/><rect x="376" y="240" width="4" height="26" fill="#d75442" stroke="#5b1a13" stroke-width="2"/><rect x="394" y="214" width="4" height="17" fill="#d75442" stroke="#5b1a13" stroke-width="2"/><rect x="400" y="234" width="4" height="29" fill="#d75442" stroke="#5b1a13" stroke-width="2"/><rect x="404" y="264" width="6" height="2" fill="#5b1a13"/><rect x="416" y="256" width="6" height="3" fill="#5b1a13"/><rect x="418" y="257.5" width="2" height="0.0" fill="#d75442"/><rect x="428" y="253" width="6" height="2" fill="#5b1a13"/><rect x="435" y="257" width="4" height="14" fill="#d75442" stroke="#5b1a13" stroke-width="2"/><rect x="440" y="273" width="4" height="9" fill="#d75442" stroke="#5b1a13" stroke-width="2"/><rect x="446" y="282" width="4" height="27" fill="#d75442" stroke="#5b1a13" stroke-width="2"/><rect x="458" y="300" width="4" height="31" fill="#d75442" stroke="#5b1a13" stroke-width="2"/><rect x="464" y="333" width="4" height="9" fill="#d75442" stroke="#5b1a13" stroke-width="2"/><rect x="475" y="322" width="4" height="5" fill="#d75442" stroke="#5b1a13" stroke-width="2"/><rect x="493" y="278" width="4" height="18" fill="#d75442" stroke="#5b1a13" stroke-width="2"/><rect x="497" y="297" width="6" height="2" fill="#5b1a13"/><rect x="509" y="286" width="6" height="2" fill="#5b1a13"/><rect x="516" y="288" width="4" height="15" fill="#d75442" stroke="#5b1a13" stroke-width="2"/><rect x="522" y="304" width="4" height="15" fill="#d75442" stroke="#5b1a13" stroke-width="2"/><rect x="527" y="320" width="4" height="14" fill="#d75442" stroke="#5b1a13" stroke-width="2"/><rect x="533" y="336" width="4" height="11" fill="#d75442" stroke="#5b1a13" stroke-width="2"/><rect x="539" y="349" width="4" height="47" fill="#d75442" stroke="#5b1a13" stroke-width="2"/><rect x="545" y="397" width="4" height="34" fill="#d75442" stroke="#5b1a13" stroke-width="2"/><rect x="557" y="416" width="4" height="21" fill="#d75442" stroke="#5b1a13" stroke-width="2"/><rect x="591" y="398" width="4" height="18" fill="#d75442" stroke="#5b1a13" stroke-width="2"/><rect x="609" y="409" width="4" height="22" fill="#d75442" stroke="#5b1a13" stroke-width="2"/><rect x="644" y="338" width="4" height="11" fill="#d75442" stroke="#5b1a13" stroke-width="2"/><rect x="655" y="336" width="4" height="20" fill="#d75442" stroke="#5b1a13" stroke-width="2"/><rect x="661" y="358" width="4" height="31" fill="#d75442" stroke="#5b1a13" stroke-width="2"/><rect x="666" y="390" width="6" height="2" fill="#5b1a13"/><rect x="673" y="393" width="4" height="11" fill="#d75442" stroke="#5b1a13" stroke-width="2"/><rect x="678" y="405" width="6" height="2" fill="#5b1a13"/><rect x="690" y="365" width="4" height="4" fill="#d75442" stroke="#5b1a13" stroke-width="2"/><rect x="696" y="371" width="4" height="32" fill="#d75442" stroke="#5b1a13" stroke-width="2"/><rect x="702" y="405" width="4" height="13" fill="#d75442" stroke="#5b1a13" stroke-width="2"/><rect x="713" y="412" width="4" height="25" fill="#d75442" stroke="#5b1a13" stroke-width="2"/><rect x="719" y="439" width="4" height="23" fill="#d75442" stroke="#5b1a13" stroke-width="2"/><rect x="731" y="449" width="4" height="5" fill="#d75442" stroke="#5b1a13" stroke-width="2"/><rect x="748" y="430" width="4" height="5" fill="#d75442" stroke="#5b1a13" stroke-width="2"/><rect x="754" y="437" width="4" height="13" fill="#d75442" stroke="#5b1a13" stroke-width="2"/><rect x="777" y="412" width="4" height="8" fill="#d75442" stroke="#5b1a13" stroke-width="2"/><rect x="783" y="422" width="4" height="22" fill="#d75442" stroke="#5b1a13" stroke-width="2"/><rect x="795" y="439" width="4" height="16" fill="#d75442" stroke="#5b1a13" stroke-width="2"/><rect x="801" y="457" width="4" height="4" fill="#d75442" stroke="#5b1a13" stroke-width="2"/><rect x="818" y="439" width="4" height="15" fill="#d75442" stroke="#5b1a13" stroke-width="2"/><rect x="824" y="456" width="4" height="6" fill="#d75442" stroke="#5b1a13" stroke-width="2"/><rect x="829" y="463" width="6" height="2" fill="#5b1a13"/><rect x="835" y="466" width="4" height="8" fill="#d75442" stroke="#5b1a13" stroke-width="2"/><rect x="858" y="448" width="6" height="5" fill="#5b1a13"/><rect x="860" y="449.5" width="2" height="2.0" fill="#d75442"/><rect x="876" y="435" width="4" height="12" fill="#d75442" stroke="#5b1a13" stroke-width="2"/><rect x="905" y="412" width="4" height="9" fill="#d75442" stroke="#5b1a13" stroke-width="2"/><rect x="923" y="399" width="4" height="5" fill="#d75442" stroke="#5b1a13" stroke-width="2"/><rect x="940" y="401" width="4" height="13" fill="#d75442" stroke="#5b1a13" stroke-width="2"/><rect x="952" y="399" width="4" height="7" fill="#d75442" stroke="#5b1a13" stroke-width="2"/><rect x="963" y="401" width="4" height="5" fill="#d75442" stroke="#5b1a13" stroke-width="2"/><rect x="969" y="408" width="4" height="11" fill="#d75442" stroke="#5b1a13" stroke-width="2"/><rect x="975" y="421" width="4" height="28" fill="#d75442" stroke="#5b1a13" stroke-width="2"/><rect x="986" y="438" width="4" height="16" fill="#d75442" stroke="#5b1a13" stroke-width="2"/><rect x="998" y="450" width="4" height="7" fill="#d75442" stroke="#5b1a13" stroke-width="2"/><rect x="1004" y="459" width="4" height="22" fill="#d75442" stroke="#5b1a13" stroke-width="2"/><rect x="1021" y="461" width="4" height="9" fill="#d75442" stroke="#5b1a13" stroke-width="2"/><rect x="1032" y="465" width="6" height="2" fill="#5b1a13"/><rect x="1039" y="468" width="4" height="11" fill="#d75442" stroke="#5b1a13" stroke-width="2"/><rect x="1055" y="458" width="6" height="2" fill="#5b1a13"/><rect x="1062" y="461" width="4" height="9" fill="#d75442" stroke="#5b1a13" stroke-width="2"/><rect x="1074" y="466" width="4" height="7" fill="#d75442" stroke="#5b1a13" stroke-width="2"/><rect x="1078" y="474" width="6" height="5" fill="#5b1a13"/><rect x="1080" y="475.5" width="2" height="2.0" fill="#d75442"/><rect x="1091" y="476" width="4" height="29" fill="#d75442" stroke="#5b1a13" stroke-width="2"/><rect x="1103" y="503" width="4" height="4" fill="#d75442" stroke="#5b1a13" stroke-width="2"/><rect x="1108" y="508" width="4" height="26" fill="#d75442" stroke="#5b1a13" stroke-width="2"/><rect x="1114" y="536" width="4" height="33" fill="#d75442" stroke="#5b1a13" stroke-width="2"/><rect x="1126" y="550" width="4" height="4" fill="#d75442" stroke="#5b1a13" stroke-width="2"/><rect x="1143" y="527" width="4" height="31" fill="#d75442" stroke="#5b1a13" stroke-width="2"/><rect x="1149" y="560" width="4" height="5" fill="#d75442" stroke="#5b1a13" stroke-width="2"/><rect x="1155" y="567" width="4" height="6" fill="#d75442" stroke="#5b1a13" stroke-width="2"/><rect x="1161" y="576" width="4" height="13" fill="#d75442" stroke="#5b1a13" stroke-width="2"/><rect x="1167" y="591" width="4" height="62" fill="#d75442" stroke="#5b1a13" stroke-width="2"/><rect x="1178" y="624" width="4" height="93" fill="#d75442" stroke="#5b1a13" stroke-width="2"/><rect x="1184" y="719" width="4" height="40" fill="#d75442" stroke="#5b1a13" stroke-width="2"/><rect x="1207" y="686" width="4" height="30" fill="#d75442" stroke="#5b1a13" stroke-width="2"/><rect x="1219" y="694" width="4" height="49" fill="#d75442" stroke="#5b1a13" stroke-width="2"/><rect x="1231" y="727" width="4" height="12" fill="#d75442" stroke="#5b1a13" stroke-width="2"/><rect x="1248" y="718" width="4" height="16" fill="#d75442" stroke="#5b1a13" stroke-width="2"/><rect x="1260" y="726" width="4" height="7" fill="#d75442" stroke="#5b1a13" stroke-width="2"/><rect x="1265" y="735" width="4" height="24" fill="#d75442" stroke="#5b1a13" stroke-width="2"/><rect x="1271" y="761" width="4" height="12" fill="#d75442" stroke="#5b1a13" stroke-width="2"/><rect x="1300" y="726" width="4" height="31" fill="#d75442" stroke="#5b1a13" stroke-width="2"/><rect x="1312" y="748" width="4" height="16" fill="#d75442" stroke="#5b1a13" stroke-width="2"/><rect x="1335" y="741" width="4" height="7" fill="#d75442" stroke="#5b1a13" stroke-width="2"/><rect x="1341" y="750" width="4" height="5" fill="#d75442" stroke="#5b1a13" stroke-width="2"/><rect x="1353" y="741" width="4" height="20" fill="#d75442" stroke="#5b1a13" stroke-width="2"/><rect x="1358" y="763" width="4" height="31" fill="#d75442" stroke="#5b1a13" stroke-width="2"/><rect x="1364" y="796" width="4" height="27" fill="#d75442" stroke="#5b1a13" stroke-width="2"/><rect x="1370" y="824" width="4" height="50" fill="#d75442" stroke="#5b1a13" stroke-width="2"/><rect x="1376" y="877" width="4" height="8" fill="#d75442" stroke="#5b1a13" stroke-width="2"/><rect x="1387" y="868" width="4" height="45" fill="#d75442" stroke="#5b1a13" stroke-width="2"/><rect x="1399" y="902" width="4" height="49" fill="#d75442" stroke="#5b1a13" stroke-width="2"/><rect x="1439" y="754" width="6" height="4" fill="#5b1a13"/><rect x="1441" y="755.5" width="2" height="1.0" fill="#d75442"/><rect x="1445" y="759" width="4" height="24" fill="#d75442" stroke="#5b1a13" stroke-width="2"/><rect x="1451" y="785" width="4" height="14" fill="#d75442" stroke="#5b1a13" stroke-width="2"/><rect x="1457" y="801" width="4" height="13" fill="#d75442" stroke="#5b1a13" stroke-width="2"/><rect x="1463" y="816" width="4" height="7" fill="#d75442" stroke="#5b1a13" stroke-width="2"/><rect x="1469" y="826" width="4" height="8" fill="#d75442" stroke="#5b1a13" stroke-width="2"/><rect x="1475" y="839" width="4" height="10" fill="#d75442" stroke="#5b1a13" stroke-width="2"/><rect x="1486" y="829" width="4" height="20" fill="#d75442" stroke="#5b1a13" stroke-width="2"/><rect x="1521" y="756" width="4" height="7" fill="#d75442" stroke="#5b1a13" stroke-width="2"/><rect x="1527" y="766" width="4" height="9" fill="#d75442" stroke="#5b1a13" stroke-width="2"/><rect x="1532" y="776" width="6" height="4" fill="#5b1a13"/><rect x="1534" y="777.5" width="2" height="1.0" fill="#d75442"/><rect x="1538" y="781" width="4" height="16" fill="#d75442" stroke="#5b1a13" stroke-width="2"/><rect x="1555" y="700" width="6" height="3" fill="#5b1a13"/><rect x="1557" y="701.5" width="2" height="0.0" fill="#d75442"/><rect x="1579" y="596" width="4" height="11" fill="#d75442" stroke="#5b1a13" stroke-width="2"/><rect x="1585" y="610" width="4" height="34" fill="#d75442" stroke="#5b1a13" stroke-width="2"/><rect x="1597" y="617" width="4" height="20" fill="#d75442" stroke="#5b1a13" stroke-width="2"/><rect x="1614" y="626" width="4" height="45" fill="#d75442" stroke="#5b1a13" stroke-width="2"/><rect x="1642" y="602" width="6" height="4" fill="#5b1a13"/><rect x="1644" y="603.5" width="2" height="1.0" fill="#d75442"/><rect x="1648" y="606" width="6" height="2" fill="#5b1a13"/><rect x="1655" y="608" width="4" height="13" fill="#d75442" stroke="#5b1a13" stroke-width="2"/><rect x="1659" y="622" width="6" height="4" fill="#5b1a13"/><rect x="1661" y="623.5" width="2" height="1.0" fill="#d75442"/><rect x="1684" y="609" width="4" height="4" fill="#d75442" stroke="#5b1a13" stroke-width="2"/><rect x="1689" y="614" width="6" height="2" fill="#5b1a13"/><rect x="1701" y="611" width="4" height="10" fill="#d75442" stroke="#5b1a13" stroke-width="2"/><rect x="1712" y="604" width="6" height="5" fill="#5b1a13"/><rect x="1714" y="605.5" width="2" height="2.0" fill="#d75442"/><rect x="1730" y="573" width="4" height="7" fill="#d75442" stroke="#5b1a13" stroke-width="2"/><rect x="1736" y="583" width="4" height="14" fill="#d75442" stroke="#5b1a13" stroke-width="2"/><rect x="1742" y="599" width="4" height="5" fill="#d75442" stroke="#5b1a13" stroke-width="2"/><rect x="1748" y="606" width="4" height="17" fill="#d75442" stroke="#5b1a13" stroke-width="2"/><rect x="1753" y="625" width="4" height="9" fill="#d75442" stroke="#5b1a13" stroke-width="2"/><rect x="1759" y="636" width="4" height="36" fill="#d75442" stroke="#5b1a13" stroke-width="2"/><rect x="1776" y="651" width="6" height="3" fill="#5b1a13"/><rect x="1778" y="652.5" width="2" height="0.0" fill="#d75442"/><rect x="1788" y="646" width="4" height="6" fill="#d75442" stroke="#5b1a13" stroke-width="2"/><rect x="1800" y="652" width="4" height="21" fill="#d75442" stroke="#5b1a13" stroke-width="2"/><rect x="1812" y="657" width="4" height="9" fill="#d75442" stroke="#5b1a13" stroke-width="2"/><rect x="1822" y="651" width="6" height="2" fill="#5b1a13"/><rect x="1840" y="625" width="6" height="4" fill="#5b1a13"/><rect x="1842" y="626.5" width="2" height="1.0" fill="#d75442"/><rect x="1858" y="620" width="4" height="4" fill="#d75442" stroke="#5b1a13" stroke-width="2"/><rect x="1864" y="626" width="4" height="26" fill="#d75442" stroke="#5b1a13" stroke-width="2"/><rect x="1892" y="615" width="6" height="5" fill="#5b1a13"/><rect x="1894" y="616.5" width="2" height="2.0" fill="#d75442"/><rect x="1904" y="607" width="4" height="32" fill="#d75442" stroke="#5b1a13" stroke-width="2"/><rect x="1916" y="632" width="4" height="16" fill="#d75442" stroke="#5b1a13" stroke-width="2"/><rect x="1922" y="650" width="4" height="5" fill="#d75442" stroke="#5b1a13" stroke-width="2"/><rect x="1934" y="647" width="4" height="32" fill="#d75442" stroke="#5b1a13" stroke-width="2"/><rect x="1945" y="674" width="4" height="14" fill="#d75442" stroke="#5b1a13" stroke-width="2"/><rect x="1951" y="690" width="4" height="13" fill="#d75442" stroke="#5b1a13" stroke-width="2"/><rect x="1968" y="669" width="4" height="10" fill="#d75442" stroke="#5b1a13" stroke-width="2"/><rect x="1973" y="680" width="6" height="5" fill="#5b1a13"/><rect x="1975" y="681.5" width="2" height="2.0" fill="#d75442"/><rect x="1986" y="679" width="4" height="6" fill="#d75442" stroke="#5b1a13" stroke-width="2"/><rect x="2008" y="669" width="6" height="4" fill="#5b1a13"/><rect x="2010" y="670.5" width="2" height="1.0" fill="#d75442"/><rect x="2014" y="673" width="6" height="3" fill="#5b1a13"/><rect x="2016" y="674.5" width="2" height="0.0" fill="#d75442"/><rect x="2038" y="638" width="4" height="5" fill="#d75442" stroke="#5b1a13" stroke-width="2"/><rect x="2043" y="644" width="6" height="2" fill="#5b1a13"/><rect x="2050" y="647" width="4" height="4" fill="#d75442" stroke="#5b1a13" stroke-width="2"/><rect x="2060" y="648" width="6" height="4" fill="#5b1a13"/><rect x="2062" y="649.5" width="2" height="1.0" fill="#d75442"/><rect x="2067" y="654" width="4" height="8" fill="#d75442" stroke="#5b1a13" stroke-width="2"/><rect x="2072" y="663" width="6" height="3" fill="#5b1a13"/><rect x="2074" y="664.5" width="2" height="0.0" fill="#d75442"/><rect x="2078" y="666" width="6" height="3" fill="#5b1a13"/><rect x="2080" y="667.5" width="2" height="0.0" fill="#d75442"/><rect x="2089" y="661" width="6" height="2" fill="#5b1a13"/><rect x="2114" y="633" width="4" height="5" fill="#d75442" stroke="#5b1a13" stroke-width="2"/><rect x="2119" y="641" width="4" height="13" fill="#d75442" stroke="#5b1a13" stroke-width="2"/><rect x="2130" y="644" width="6" height="2" fill="#5b1a13"/><rect x="2142" y="619" width="6" height="2" fill="#5b1a13"/><rect x="2160" y="604" width="4" height="12" fill="#d75442" stroke="#5b1a13" stroke-width="2"/><rect x="2171" y="601" width="6" height="4" fill="#5b1a13"/><rect x="2173" y="602.5" width="2" height="1.0" fill="#d75442"/><rect x="2178" y="607" width="4" height="6" fill="#d75442" stroke="#5b1a13" stroke-width="2"/><rect x="2182" y="614" width="6" height="3" fill="#5b1a13"/><rect x="2184" y="615.5" width="2" height="0.0" fill="#d75442"/><rect x="2189" y="618" width="4" height="9" fill="#d75442" stroke="#5b1a13" stroke-width="2"/><rect x="16" y="410" width="4" height="26" fill="#6ba583" stroke="#225437" stroke-width="2"/><rect x="28" y="404" width="4" height="19" fill="#6ba583" stroke="#225437" stroke-width="2"/><rect x="34" y="391" width="4" height="11" fill="#6ba583" stroke="#225437" stroke-width="2"/><rect x="38" y="386" width="6" height="4" fill="#225437"/><rect x="40" y="387.5" width="2" height="1.0" fill="#6ba583"/><rect x="45" y="319" width="4" height="66" fill="#6ba583" stroke="#225437" stroke-width="2"/><rect x="63" y="353" width="4" height="10" fill="#6ba583" stroke="#225437" stroke-width="2"/><rect x="74" y="353" width="4" height="4" fill="#6ba583" stroke="#225437" stroke-width="2"/><rect x="80" y="335" width="4" height="16" fill="#6ba583" stroke="#225437" stroke-width="2"/><rect x="108" y="359" width="6" height="2" fill="#225437"/><rect x="127" y="387" width="4" height="8" fill="#6ba583" stroke="#225437" stroke-width="2"/><rect x="138" y="387" width="4" height="5" fill="#6ba583" stroke="#225437" stroke-width="2"/><rect x="161" y="411" width="4" height="14" fill="#6ba583" stroke="#225437" stroke-width="2"/><rect x="173" y="414" width="4" height="26" fill="#6ba583" stroke="#225437" stroke-width="2"/><rect x="179" y="405" width="4" height="6" fill="#6ba583" stroke="#225437" stroke-width="2"/><rect x="196" y="387" width="4" height="38" fill="#6ba583" stroke="#225437" stroke-width="2"/><rect x="208" y="354" width="4" height="44" fill="#6ba583" stroke="#225437" stroke-width="2"/><rect x="225" y="407" width="4" height="7" fill="#6ba583" stroke="#225437" stroke-width="2"/><rect x="231" y="375" width="4" height="30" fill="#6ba583" stroke="#225437" stroke-width="2"/><rect x="243" y="340" width="4" height="38" fill="#6ba583" stroke="#225437" stroke-width="2"/><rect x="249" y="320" width="4" height="18" fill="#6ba583" stroke="#225437" stroke-width="2"/><rect x="254" y="297" width="4" height="21" fill="#6ba583" stroke="#225437" stroke-width="2"/><rect x="266" y="333" width="4" height="9" fill="#6ba583" stroke="#225437" stroke-width="2"/><rect x="272" y="295" width="4" height="36" fill="#6ba583" stroke="#225437" stroke-width="2"/><rect x="278" y="286" width="4" height="7" fill="#6ba583" stroke="#225437" stroke-width="2"/><rect x="283" y="275" width="4" height="9" fill="#6ba583" stroke="#225437" stroke-width="2"/><rect x="294" y="324" width="6" height="2" fill="#225437"/><rect x="300" y="317" width="6" height="5" fill="#225437"/><rect x="302" y="318.5" width="2" height="2.0" fill="#6ba583"/><rect x="318" y="351" width="4" height="21" fill="#6ba583" stroke="#225437" stroke-width="2"/><rect x="324" y="320" width="4" height="29" fill="#6ba583" stroke="#225437" stroke-width="2"/><rect x="336" y="320" width="4" height="7" fill="#6ba583" stroke="#225437" stroke-width="2"/><rect x="342" y="303" width="4" height="15" fill="#6ba583" stroke="#225437" stroke-width="2"/><rect x="359" y="282" width="4" height="35" fill="#6ba583" stroke="#225437" stroke-width="2"/><rect x="365" y="263" width="4" height="17" fill="#6ba583" stroke="#225437" stroke-width="2"/><rect x="371" y="240" width="4" height="22" fill="#6ba583" stroke="#225437" stroke-width="2"/><rect x="382" y="246" width="4" height="20" fill="#6ba583" stroke="#225437" stroke-width="2"/><rect x="388" y="215" width="4" height="29" fill="#6ba583" stroke="#225437" stroke-width="2"/><rect x="411" y="257" width="4" height="9" fill="#6ba583" stroke="#225437" stroke-width="2"/><rect x="423" y="253" width="4" height="5" fill="#6ba583" stroke="#225437" stroke-width="2"/><rect x="452" y="300" width="4" height="9" fill="#6ba583" stroke="#225437" stroke-width="2"/><rect x="469" y="322" width="4" height="20" fill="#6ba583" stroke="#225437" stroke-width="2"/><rect x="481" y="283" width="4" height="44" fill="#6ba583" stroke="#225437" stroke-width="2"/><rect x="486" y="277" width="6" height="5" fill="#225437"/><rect x="488" y="278.5" width="2" height="2.0" fill="#6ba583"/><rect x="503" y="286" width="6" height="2" fill="#225437"/><rect x="551" y="416" width="4" height="15" fill="#6ba583" stroke="#225437" stroke-width="2"/><rect x="562" y="427" width="4" height="11" fill="#6ba583" stroke="#225437" stroke-width="2"/><rect x="568" y="421" width="4" height="4" fill="#6ba583" stroke="#225437" stroke-width="2"/><rect x="573" y="419" width="6" height="2" fill="#225437"/><rect x="580" y="403" width="4" height="16" fill="#6ba583" stroke="#225437" stroke-width="2"/><rect x="585" y="397" width="6" height="5" fill="#225437"/><rect x="587" y="398.5" width="2" height="2.0" fill="#6ba583"/><rect x="597" y="410" width="4" height="7" fill="#6ba583" stroke="#225437" stroke-width="2"/><rect x="602" y="408" width="6" height="2" fill="#225437"/><rect x="614" y="427" width="6" height="5" fill="#225437"/><rect x="616" y="428.5" width="2" height="2.0" fill="#6ba583"/><rect x="620" y="398" width="4" height="29" fill="#6ba583" stroke="#225437" stroke-width="2"/><rect x="625" y="395" width="6" height="3" fill="#225437"/><rect x="627" y="396.5" width="2" height="0.0" fill="#6ba583"/><rect x="632" y="389" width="4" height="5" fill="#6ba583" stroke="#225437" stroke-width="2"/><rect x="638" y="339" width="4" height="48" fill="#6ba583" stroke="#225437" stroke-width="2"/><rect x="649" y="336" width="4" height="13" fill="#6ba583" stroke="#225437" stroke-width="2"/><rect x="684" y="364" width="4" height="40" fill="#6ba583" stroke="#225437" stroke-width="2"/><rect x="708" y="412" width="4" height="7" fill="#6ba583" stroke="#225437" stroke-width="2"/><rect x="725" y="450" width="4" height="11" fill="#6ba583" stroke="#225437" stroke-width="2"/><rect x="736" y="454" width="6" height="2" fill="#225437"/><rect x="742" y="430" width="4" height="22" fill="#6ba583" stroke="#225437" stroke-width="2"/><rect x="760" y="415" width="4" height="35" fill="#6ba583" stroke="#225437" stroke-width="2"/><rect x="765" y="413" width="6" height="2" fill="#225437"/><rect x="771" y="411" width="6" height="2" fill="#225437"/><rect x="789" y="439" width="4" height="5" fill="#6ba583" stroke="#225437" stroke-width="2"/><rect x="806" y="454" width="4" height="7" fill="#6ba583" stroke="#225437" stroke-width="2"/><rect x="812" y="439" width="4" height="13" fill="#6ba583" stroke="#225437" stroke-width="2"/><rect x="841" y="470" width="4" height="4" fill="#6ba583" stroke="#225437" stroke-width="2"/><rect x="846" y="469" width="6" height="2" fill="#225437"/><rect x="853" y="449" width="4" height="19" fill="#6ba583" stroke="#225437" stroke-width="2"/><rect x="864" y="441" width="4" height="11" fill="#6ba583" stroke="#225437" stroke-width="2"/><rect x="870" y="435" width="4" height="4" fill="#6ba583" stroke="#225437" stroke-width="2"/><rect x="881" y="447" width="6" height="2" fill="#225437"/><rect x="888" y="439" width="4" height="8" fill="#6ba583" stroke="#225437" stroke-width="2"/><rect x="894" y="429" width="4" height="8" fill="#6ba583" stroke="#225437" stroke-width="2"/><rect x="899" y="412" width="4" height="15" fill="#6ba583" stroke="#225437" stroke-width="2"/><rect x="911" y="417" width="4" height="4" fill="#6ba583" stroke="#225437" stroke-width="2"/><rect x="917" y="399" width="4" height="16" fill="#6ba583" stroke="#225437" stroke-width="2"/><rect x="927" y="403" width="6" height="2" fill="#225437"/><rect x="933" y="400" width="6" height="3" fill="#225437"/><rect x="935" y="401.5" width="2" height="0.0" fill="#6ba583"/><rect x="946" y="398" width="4" height="16" fill="#6ba583" stroke="#225437" stroke-width="2"/><rect x="957" y="401" width="4" height="5" fill="#6ba583" stroke="#225437" stroke-width="2"/><rect x="981" y="438" width="4" height="11" fill="#6ba583" stroke="#225437" stroke-width="2"/><rect x="992" y="450" width="4" height="5" fill="#6ba583" stroke="#225437" stroke-width="2"/><rect x="1010" y="466" width="4" height="14" fill="#6ba583" stroke="#225437" stroke-width="2"/><rect x="1015" y="460" width="6" height="5" fill="#225437"/><rect x="1017" y="461.5" width="2" height="2.0" fill="#6ba583"/><rect x="1027" y="466" width="4" height="4" fill="#6ba583" stroke="#225437" stroke-width="2"/><rect x="1045" y="460" width="4" height="19" fill="#6ba583" stroke="#225437" stroke-width="2"/><rect x="1049" y="458" width="6" height="2" fill="#225437"/><rect x="1068" y="466" width="4" height="4" fill="#6ba583" stroke="#225437" stroke-width="2"/><rect x="1084" y="476" width="6" height="2" fill="#225437"/><rect x="1096" y="502" width="6" height="4" fill="#225437"/><rect x="1098" y="503.5" width="2" height="1.0" fill="#6ba583"/><rect x="1120" y="550" width="4" height="19" fill="#6ba583" stroke="#225437" stroke-width="2"/><rect x="1131" y="555" width="6" height="2" fill="#225437"/><rect x="1138" y="527" width="4" height="27" fill="#6ba583" stroke="#225437" stroke-width="2"/><rect x="1172" y="624" width="4" height="28" fill="#6ba583" stroke="#225437" stroke-width="2"/><rect x="1190" y="723" width="4" height="34" fill="#6ba583" stroke="#225437" stroke-width="2"/><rect x="1196" y="714" width="4" height="7" fill="#6ba583" stroke="#225437" stroke-width="2"/><rect x="1201" y="686" width="4" height="26" fill="#6ba583" stroke="#225437" stroke-width="2"/><rect x="1213" y="694" width="4" height="22" fill="#6ba583" stroke="#225437" stroke-width="2"/><rect x="1225" y="729" width="4" height="14" fill="#6ba583" stroke="#225437" stroke-width="2"/><rect x="1236" y="732" width="4" height="7" fill="#6ba583" stroke="#225437" stroke-width="2"/><rect x="1242" y="718" width="4" height="12" fill="#6ba583" stroke="#225437" stroke-width="2"/><rect x="1254" y="726" width="4" height="8" fill="#6ba583" stroke="#225437" stroke-width="2"/><rect x="1277" y="767" width="4" height="6" fill="#6ba583" stroke="#225437" stroke-width="2"/><rect x="1283" y="761" width="4" height="4" fill="#6ba583" stroke="#225437" stroke-width="2"/><rect x="1289" y="728" width="4" height="31" fill="#6ba583" stroke="#225437" stroke-width="2"/><rect x="1293" y="725" width="6" height="2" fill="#225437"/><rect x="1306" y="748" width="4" height="9" fill="#6ba583" stroke="#225437" stroke-width="2"/><rect x="1317" y="762" width="6" height="3" fill="#225437"/><rect x="1319" y="763.5" width="2" height="0.0" fill="#6ba583"/><rect x="1322" y="760" width="6" height="2" fill="#225437"/><rect x="1329" y="741" width="4" height="18" fill="#6ba583" stroke="#225437" stroke-width="2"/><rect x="1347" y="741" width="4" height="13" fill="#6ba583" stroke="#225437" stroke-width="2"/><rect x="1382" y="868" width="4" height="17" fill="#6ba583" stroke="#225437" stroke-width="2"/><rect x="1393" y="902" width="4" height="12" fill="#6ba583" stroke="#225437" stroke-width="2"/><rect x="1405" y="915" width="4" height="35" fill="#6ba583" stroke="#225437" stroke-width="2"/><rect x="1411" y="901" width="4" height="12" fill="#6ba583" stroke="#225437" stroke-width="2"/><rect x="1416" y="885" width="4" height="13" fill="#6ba583" stroke="#225437" stroke-width="2"/><rect x="1422" y="855" width="4" height="28" fill="#6ba583" stroke="#225437" stroke-width="2"/><rect x="1428" y="782" width="4" height="71" fill="#6ba583" stroke="#225437" stroke-width="2"/><rect x="1434" y="755" width="4" height="25" fill="#6ba583" stroke="#225437" stroke-width="2"/><rect x="1480" y="829" width="4" height="20" fill="#6ba583" stroke="#225437" stroke-width="2"/><rect x="1492" y="829" width="4" height="20" fill="#6ba583" stroke="#225437" stroke-width="2"/><rect x="1498" y="815" width="4" height="12" fill="#6ba583" stroke="#225437" stroke-width="2"/><rect x="1504" y="807" width="4" height="6" fill="#6ba583" stroke="#225437" stroke-width="2"/><rect x="1509" y="781" width="4" height="24" fill="#6ba583" stroke="#225437" stroke-width="2"/><rect x="1515" y="756" width="4" height="23" fill="#6ba583" stroke="#225437" stroke-width="2"/><rect x="1544" y="737" width="4" height="60" fill="#6ba583" stroke="#225437" stroke-width="2"/><rect x="1550" y="701" width="4" height="35" fill="#6ba583" stroke="#225437" stroke-width="2"/><rect x="1562" y="693" width="4" height="9" fill="#6ba583" stroke="#225437" stroke-width="2"/><rect x="1568" y="680" width="4" height="11" fill="#6ba583" stroke="#225437" stroke-width="2"/><rect x="1573" y="596" width="4" height="82" fill="#6ba583" stroke="#225437" stroke-width="2"/><rect x="1591" y="617" width="4" height="27" fill="#6ba583" stroke="#225437" stroke-width="2"/><rect x="1602" y="630" width="4" height="6" fill="#6ba583" stroke="#225437" stroke-width="2"/><rect x="1607" y="626" width="6" height="3" fill="#225437"/><rect x="1609" y="627.5" width="2" height="0.0" fill="#6ba583"/><rect x="1620" y="666" width="4" height="6" fill="#6ba583" stroke="#225437" stroke-width="2"/><rect x="1626" y="621" width="4" height="43" fill="#6ba583" stroke="#225437" stroke-width="2"/><rect x="1631" y="607" width="4" height="10" fill="#6ba583" stroke="#225437" stroke-width="2"/><rect x="1636" y="603" width="6" height="2" fill="#225437"/><rect x="1665" y="622" width="6" height="4" fill="#225437"/><rect x="1667" y="623.5" width="2" height="1.0" fill="#6ba583"/><rect x="1671" y="621" width="6" height="2" fill="#225437"/><rect x="1678" y="609" width="4" height="12" fill="#6ba583" stroke="#225437" stroke-width="2"/><rect x="1694" y="610" width="6" height="5" fill="#225437"/><rect x="1696" y="611.5" width="2" height="2.0" fill="#6ba583"/><rect x="1707" y="605" width="4" height="16" fill="#6ba583" stroke="#225437" stroke-width="2"/><rect x="1718" y="605" width="6" height="4" fill="#225437"/><rect x="1720" y="606.5" width="2" height="1.0" fill="#6ba583"/><rect x="1724" y="573" width="4" height="31" fill="#6ba583" stroke="#225437" stroke-width="2"/><rect x="1765" y="666" width="4" height="6" fill="#6ba583" stroke="#225437" stroke-width="2"/><rect x="1771" y="652" width="4" height="12" fill="#6ba583" stroke="#225437" stroke-width="2"/><rect x="1782" y="646" width="4" height="7" fill="#6ba583" stroke="#225437" stroke-width="2"/><rect x="1793" y="651" width="6" height="2" fill="#225437"/><rect x="1806" y="657" width="4" height="16" fill="#6ba583" stroke="#225437" stroke-width="2"/><rect x="1817" y="652" width="4" height="14" fill="#6ba583" stroke="#225437" stroke-width="2"/><rect x="1829" y="646" width="4" height="6" fill="#6ba583" stroke="#225437" stroke-width="2"/><rect x="1835" y="625" width="4" height="19" fill="#6ba583" stroke="#225437" stroke-width="2"/><rect x="1846" y="623" width="4" height="5" fill="#6ba583" stroke="#225437" stroke-width="2"/><rect x="1851" y="619" width="6" height="3" fill="#225437"/><rect x="1853" y="620.5" width="2" height="0.0" fill="#6ba583"/><rect x="1870" y="643" width="4" height="9" fill="#6ba583" stroke="#225437" stroke-width="2"/><rect x="1874" y="640" width="6" height="2" fill="#225437"/><rect x="1881" y="622" width="4" height="17" fill="#6ba583" stroke="#225437" stroke-width="2"/><rect x="1887" y="616" width="4" height="4" fill="#6ba583" stroke="#225437" stroke-width="2"/><rect x="1899" y="607" width="4" height="12" fill="#6ba583" stroke="#225437" stroke-width="2"/><rect x="1910" y="632" width="4" height="7" fill="#6ba583" stroke="#225437" stroke-width="2"/><rect x="1928" y="647" width="4" height="8" fill="#6ba583" stroke="#225437" stroke-width="2"/><rect x="1939" y="674" width="4" height="5" fill="#6ba583" stroke="#225437" stroke-width="2"/><rect x="1957" y="681" width="4" height="22" fill="#6ba583" stroke="#225437" stroke-width="2"/><rect x="1963" y="669" width="4" height="10" fill="#6ba583" stroke="#225437" stroke-width="2"/><rect x="1980" y="679" width="4" height="5" fill="#6ba583" stroke="#225437" stroke-width="2"/><rect x="1991" y="683" width="6" height="3" fill="#225437"/><rect x="1993" y="684.5" width="2" height="0.0" fill="#6ba583"/><rect x="1997" y="676" width="4" height="6" fill="#6ba583" stroke="#225437" stroke-width="2"/><rect x="2003" y="669" width="4" height="4" fill="#6ba583" stroke="#225437" stroke-width="2"/><rect x="2021" y="659" width="4" height="14" fill="#6ba583" stroke="#225437" stroke-width="2"/><rect x="2027" y="644" width="4" height="14" fill="#6ba583" stroke="#225437" stroke-width="2"/><rect x="2032" y="638" width="4" height="5" fill="#6ba583" stroke="#225437" stroke-width="2"/><rect x="2055" y="648" width="6" height="4" fill="#225437"/><rect x="2057" y="649.5" width="2" height="1.0" fill="#6ba583"/><rect x="2085" y="662" width="4" height="6" fill="#6ba583" stroke="#225437" stroke-width="2"/><rect x="2095" y="659" width="6" height="4" fill="#225437"/><rect x="2097" y="660.5" width="2" height="1.0" fill="#6ba583"/><rect x="2102" y="639" width="4" height="19" fill="#6ba583" stroke="#225437" stroke-width="2"/><rect x="2108" y="633" width="4" height="5" fill="#6ba583" stroke="#225437" stroke-width="2"/><rect x="2125" y="647" width="4" height="7" fill="#6ba583" stroke="#225437" stroke-width="2"/><rect x="2137" y="619" width="4" height="26" fill="#6ba583" stroke="#225437" stroke-width="2"/><rect x="2149" y="613" width="4" height="6" fill="#6ba583" stroke="#225437" stroke-width="2"/><rect x="2154" y="604" width="4" height="5" fill="#6ba583" stroke="#225437" stroke-width="2"/><rect x="2166" y="602" width="4" height="14" fill="#6ba583" stroke="#225437" stroke-width="2"/><rect x="2194" y="628" width="6" height="2" fill="#225437"/><rect x="2201" y="598" width="4" height="30" fill="#6ba583" stroke="#225437" stroke-width="2"/></g>
<line x1="20" y1="597" x2="2552" y2="597" stroke="#6ba583" stroke-width="2" stroke-dasharray="2 4" stroke-dashoffset="0"/>
<rect x="2552" y="54" width="2" height="1216" fill="#555555"/>
<rect x="20" y="1214" width="2668" height="2" fill="#555555"/>
</svg>
<svg width="2708" height="1340" viewBox="0 0 2708 1340" style="will-change:transform">
<text x="20.3" y="40.0" font-size="24" fill="#d1d4dc" stroke="#d1d4dc" stroke-width="0.45" textLength="147.3" lengthAdjust="spacing">bitcoinwallah</text>
<text x="174.0" y="40.0" font-size="24" fill="#d1d4dc" stroke="#d1d4dc" stroke-width="0.45" textLength="109.8" lengthAdjust="spacing">published</text>
<text x="291.3" y="40.0" font-size="24" fill="#d1d4dc" stroke="#d1d4dc" stroke-width="0.45" textLength="28.3" lengthAdjust="spacing">on</text>
<text x="327.3" y="40.0" font-size="24" fill="#d1d4dc" stroke="#d1d4dc" stroke-width="0.45" textLength="198.4" lengthAdjust="spacing">TradingView.com,</text>
<text x="531.5" y="40.0" font-size="24" fill="#d1d4dc" stroke="#d1d4dc" stroke-width="0.45" textLength="45.2" lengthAdjust="spacing">Nov</text>
<text x="585.7" y="40.0" font-size="24" fill="#d1d4dc" stroke="#d1d4dc" stroke-width="0.45" textLength="34.8" lengthAdjust="spacing">03,</text>
<text x="628.3" y="40.0" font-size="24" fill="#d1d4dc" stroke="#d1d4dc" stroke-width="0.45" textLength="57.2" lengthAdjust="spacing">2022</text>
<text x="693.3" y="40.0" font-size="24" fill="#d1d4dc" stroke="#d1d4dc" stroke-width="0.45" textLength="58.5" lengthAdjust="spacing">11:25</text>
<text x="758.9" y="40.0" font-size="24" fill="#d1d4dc" stroke="#d1d4dc" stroke-width="0.45" textLength="48.5" lengthAdjust="spacing">UTC</text>
<text x="35.9" y="94.0" font-size="24" fill="#4d4d4d" stroke="#4d4d4d" stroke-width="0.3" textLength="73.8" lengthAdjust="spacing">MATIC</text>
<text x="116.4" y="94.0" font-size="24" fill="#4d4d4d" stroke="#4d4d4d" stroke-width="0.3" textLength="94.3" lengthAdjust="spacing">Network</text>
<text x="219.0" y="94.0" font-size="24" fill="#4d4d4d" stroke="#4d4d4d" stroke-width="0.3" textLength="7.2" lengthAdjust="spacing">/</text>
<text x="232.4" y="94.0" font-size="24" fill="#4d4d4d" stroke="#4d4d4d" stroke-width="0.3" textLength="31.7" lengthAdjust="spacing">US</text>
<text x="272.4" y="94.0" font-size="24" fill="#4d4d4d" stroke="#4d4d4d" stroke-width="0.3" textLength="65.2" lengthAdjust="spacing">Dollar</text>
<text x="346.0" y="94.0" font-size="24" fill="#4d4d4d" stroke="#4d4d4d" stroke-width="0.3" textLength="123.8" lengthAdjust="spacing">(calculated</text>
<text x="477.2" y="94.0" font-size="24" fill="#4d4d4d" stroke="#4d4d4d" stroke-width="0.3" textLength="25.8" lengthAdjust="spacing">by</text>
<text x="512.5" y="94.0" font-size="24" fill="#4d4d4d" stroke="#4d4d4d" stroke-width="0.3" textLength="155.3" lengthAdjust="spacing">TradingView),</text>
<text x="674.2" y="94.0" font-size="24" fill="#4d4d4d" stroke="#4d4d4d" stroke-width="0.3" textLength="34.1" lengthAdjust="spacing">1D,</text>
<text x="714.6" y="94.0" font-size="24" fill="#4d4d4d" stroke="#4d4d4d" stroke-width="0.3" textLength="105.2" lengthAdjust="spacing">BINANCE</text>
<text x="834.1" y="94.0" font-size="24" fill="#4d4d4d" stroke="#4d4d4d" stroke-width="0.3">O</text>
<text x="853.9" y="94.0" font-size="24" fill="#225437" stroke="#225437" stroke-width="0.3" textLength="60.9" lengthAdjust="spacing">0.874</text>
<text x="928.8" y="94.0" font-size="24" fill="#4d4d4d" stroke="#4d4d4d" stroke-width="0.3">H</text>
<text x="948.1" y="94.0" font-size="24" fill="#225437" stroke="#225437" stroke-width="0.3" textLength="64.7" lengthAdjust="spacing">0.985</text>
<text x="1025.8" y="94.0" font-size="24" fill="#4d4d4d" stroke="#4d4d4d" stroke-width="0.3">L</text>
<text x="1040.5" y="94.0" font-size="24" fill="#225437" stroke="#225437" stroke-width="0.3" textLength="65.4" lengthAdjust="spacing">0.869</text>
<text x="1120.6" y="94.0" font-size="24" fill="#4d4d4d" stroke="#4d4d4d" stroke-width="0.3">C</text>
<text x="1139.2" y="94.0" font-size="24" fill="#225437" stroke="#225437" stroke-width="0.3" textLength="62.9" lengthAdjust="spacing">0.955</text>
<text x="1216.0" y="94.0" font-size="24" fill="#225437" stroke="#225437" stroke-width="0.3" textLength="77.0" lengthAdjust="spacing">+0.081</text>
<text x="1300.9" y="94.0" font-size="24" fill="#225437" stroke="#225437" stroke-width="0.3" textLength="102.8" lengthAdjust="spacing">(+9.27%)</text>
<text x="36.9" y="128.0" font-size="24" fill="#4d4d4d" stroke="#4d4d4d" stroke-width="0.3" textLength="35.0" lengthAdjust="spacing">Vol</text>
<text x="84.0" y="128.0" font-size="24" fill="#26a69a" stroke="#26a69a" stroke-width="0.3" textLength="95.7" lengthAdjust="spacing">13.231M</text>
<text x="2572.0" y="87.0" font-size="22" fill="#4d4d4d" stroke="#4d4d4d" stroke-width="0.3" textLength="46.0" lengthAdjust="spacing">USD</text>
<text x="2572.0" y="154.0" font-size="22" fill="#4d4d4d" stroke="#4d4d4d" stroke-width="0.3" textLength="61.2" lengthAdjust="spacing">3.500</text>
<text x="2572.0" y="219.3" font-size="22" fill="#4d4d4d" stroke="#4d4d4d" stroke-width="0.3" textLength="61.2" lengthAdjust="spacing">2.900</text>
<text x="2572.0" y="299.7" font-size="22" fill="#4d4d4d" stroke="#4d4d4d" stroke-width="0.3" textLength="61.2" lengthAdjust="spacing">2.300</text>
<text x="2572.0" y="366.0" font-size="22" fill="#4d4d4d" stroke="#4d4d4d" stroke-width="0.3" textLength="61.2" lengthAdjust="spacing">1.900</text>
<text x="2572.0" y="425.6" font-size="22" fill="#4d4d4d" stroke="#4d4d4d" stroke-width="0.3" textLength="61.2" lengthAdjust="spacing">1.600</text>
<text x="2572.0" y="497.7" font-size="22" fill="#4d4d4d" stroke="#4d4d4d" stroke-width="0.3" textLength="61.2" lengthAdjust="spacing">1.300</text>
<text x="2572.0" y="555.6" font-size="22" fill="#4d4d4d" stroke="#4d4d4d" stroke-width="0.3" textLength="61.2" lengthAdjust="spacing">1.100</text>
<text x="2572.0" y="688.5" font-size="22" fill="#4d4d4d" stroke="#4d4d4d" stroke-width="0.3" textLength="61.2" lengthAdjust="spacing">0.750</text>
<text x="2572.0" y="766.0" font-size="22" fill="#4d4d4d" stroke="#4d4d4d" stroke-width="0.3" textLength="61.2" lengthAdjust="spacing">0.600</text>
<text x="2572.0" y="829.2" font-size="22" fill="#4d4d4d" stroke="#4d4d4d" stroke-width="0.3" textLength="61.2" lengthAdjust="spacing">0.500</text>
<text x="2572.0" y="889.7" font-size="22" fill="#4d4d4d" stroke="#4d4d4d" stroke-width="0.3" textLength="61.2" lengthAdjust="spacing">0.420</text>
<text x="2572.0" y="963.1" font-size="22" fill="#4d4d4d" stroke="#4d4d4d" stroke-width="0.3" textLength="61.2" lengthAdjust="spacing">0.340</text>
<text x="2572.0" y="1030.4" font-size="22" fill="#4d4d4d" stroke="#4d4d4d" stroke-width="0.3" textLength="61.2" lengthAdjust="spacing">0.280</text>
<text x="2572.0" y="1098.7" font-size="22" fill="#4d4d4d" stroke="#4d4d4d" stroke-width="0.3" textLength="61.2" lengthAdjust="spacing">0.230</text>
<text x="2572.0" y="1156.0" font-size="22" fill="#4d4d4d" stroke="#4d4d4d" stroke-width="0.3" textLength="61.2" lengthAdjust="spacing">0.195</text>
<g clip-path="url(#c165)"><clipPath id="c165"><rect x="2554" y="1100" width="134" height="114"/></clipPath>
<text x="2572.0" y="1213.9" font-size="22" fill="#4d4d4d" stroke="#4d4d4d" stroke-width="0.3" textLength="61.2" lengthAdjust="spacing">0.165</text>
</g>
<path d="M2418 581 H2550 V613 H2418 a4 4 0 0 1 -4 -4 V585 a4 4 0 0 1 4 -4 Z" fill="#6ba583"/>
<path d="M2552 581 H2676 a4 4 0 0 1 4 4 V635 a4 4 0 0 1 -4 4 H2552 Z" fill="#6ba583"/>
<text x="2424.5" y="604.9" font-size="22" fill="#ffffff" stroke="#ffffff" stroke-width="0.3" textLength="114.0" lengthAdjust="spacing">MATICUSD</text>
<text x="2572.0" y="604.9" font-size="22" fill="#ffffff" stroke="#ffffff" stroke-width="0.3" textLength="61.2" lengthAdjust="spacing">0.955</text>
<text x="2573.5" y="630.8" font-size="22" fill="rgba(255,255,255,0.75)" stroke="rgba(255,255,255,0.75)" stroke-width="0.3" textLength="94.0" lengthAdjust="spacing">12:34:42</text>
<clipPath id="tclip"><rect x="20" y="1216" width="2532" height="54"/></clipPath><g clip-path="url(#tclip)">
<text x="70.5" y="1250.0" font-size="22" fill="#4d4d4d" stroke="#4d4d4d" stroke-width="0.3" text-anchor="middle">Nov</text>
<text x="244.8" y="1250.0" font-size="22" fill="#4d4d4d" stroke="#4d4d4d" stroke-width="0.3" text-anchor="middle">Dec</text>
<text transform="translate(424.6,1250) scale(1.06,1.05)" x="0" y="0" font-size="22" font-weight="bold" fill="#4d4d4d" text-anchor="middle" textLength="55.4" lengthAdjust="spacing">2022</text>
<text x="605.0" y="1250.0" font-size="22" fill="#4d4d4d" stroke="#4d4d4d" stroke-width="0.3" text-anchor="middle">Feb</text>
<text x="767.7" y="1250.0" font-size="22" fill="#4d4d4d" stroke="#4d4d4d" stroke-width="0.3" text-anchor="middle">Mar</text>
<text x="947.8" y="1250.0" font-size="22" fill="#4d4d4d" stroke="#4d4d4d" stroke-width="0.3" text-anchor="middle">Apr</text>
<text x="1122.1" y="1250.0" font-size="22" fill="#4d4d4d" stroke="#4d4d4d" stroke-width="0.3" text-anchor="middle">May</text>
<text x="1302.2" y="1250.0" font-size="22" fill="#4d4d4d" stroke="#4d4d4d" stroke-width="0.3" text-anchor="middle">Jun</text>
<text x="1476.5" y="1250.0" font-size="22" fill="#4d4d4d" stroke="#4d4d4d" stroke-width="0.3" text-anchor="middle">Jul</text>
<text x="1656.7" y="1250.0" font-size="22" fill="#4d4d4d" stroke="#4d4d4d" stroke-width="0.3" text-anchor="middle">Aug</text>
<text x="1836.8" y="1250.0" font-size="22" fill="#4d4d4d" stroke="#4d4d4d" stroke-width="0.3" text-anchor="middle">Sep</text>
<text x="2011.1" y="1250.0" font-size="22" fill="#4d4d4d" stroke="#4d4d4d" stroke-width="0.3" text-anchor="middle">Oct</text>
<text x="2191.2" y="1250.0" font-size="22" fill="#4d4d4d" stroke="#4d4d4d" stroke-width="0.3" text-anchor="middle">Nov</text>
<text x="2365.5" y="1250.0" font-size="22" fill="#4d4d4d" stroke="#4d4d4d" stroke-width="0.3" text-anchor="middle">Dec</text>
<text transform="translate(2545.3,1250) scale(1.06,1.05)" x="0" y="0" font-size="22" font-weight="bold" fill="#4d4d4d" text-anchor="middle" textLength="55.4" lengthAdjust="spacing">2023</text>
</g>
<g fill="#d1d4dc"><path d="M20 1294.3 H35.8 V1313.3 H27.5 V1302.2 H20 Z"/><circle cx="42.2" cy="1298.5" r="4.3"/><path d="M50 1294.3 H59.3 L51.5 1313.3 H42.2 Z"/></g>
<text x="67.0" y="1315.0" font-size="26.5" fill="#d1d4dc" stroke="#d1d4dc" stroke-width="0.45" textLength="148.5" lengthAdjust="spacing">TradingView</text>
</svg></body></html>
